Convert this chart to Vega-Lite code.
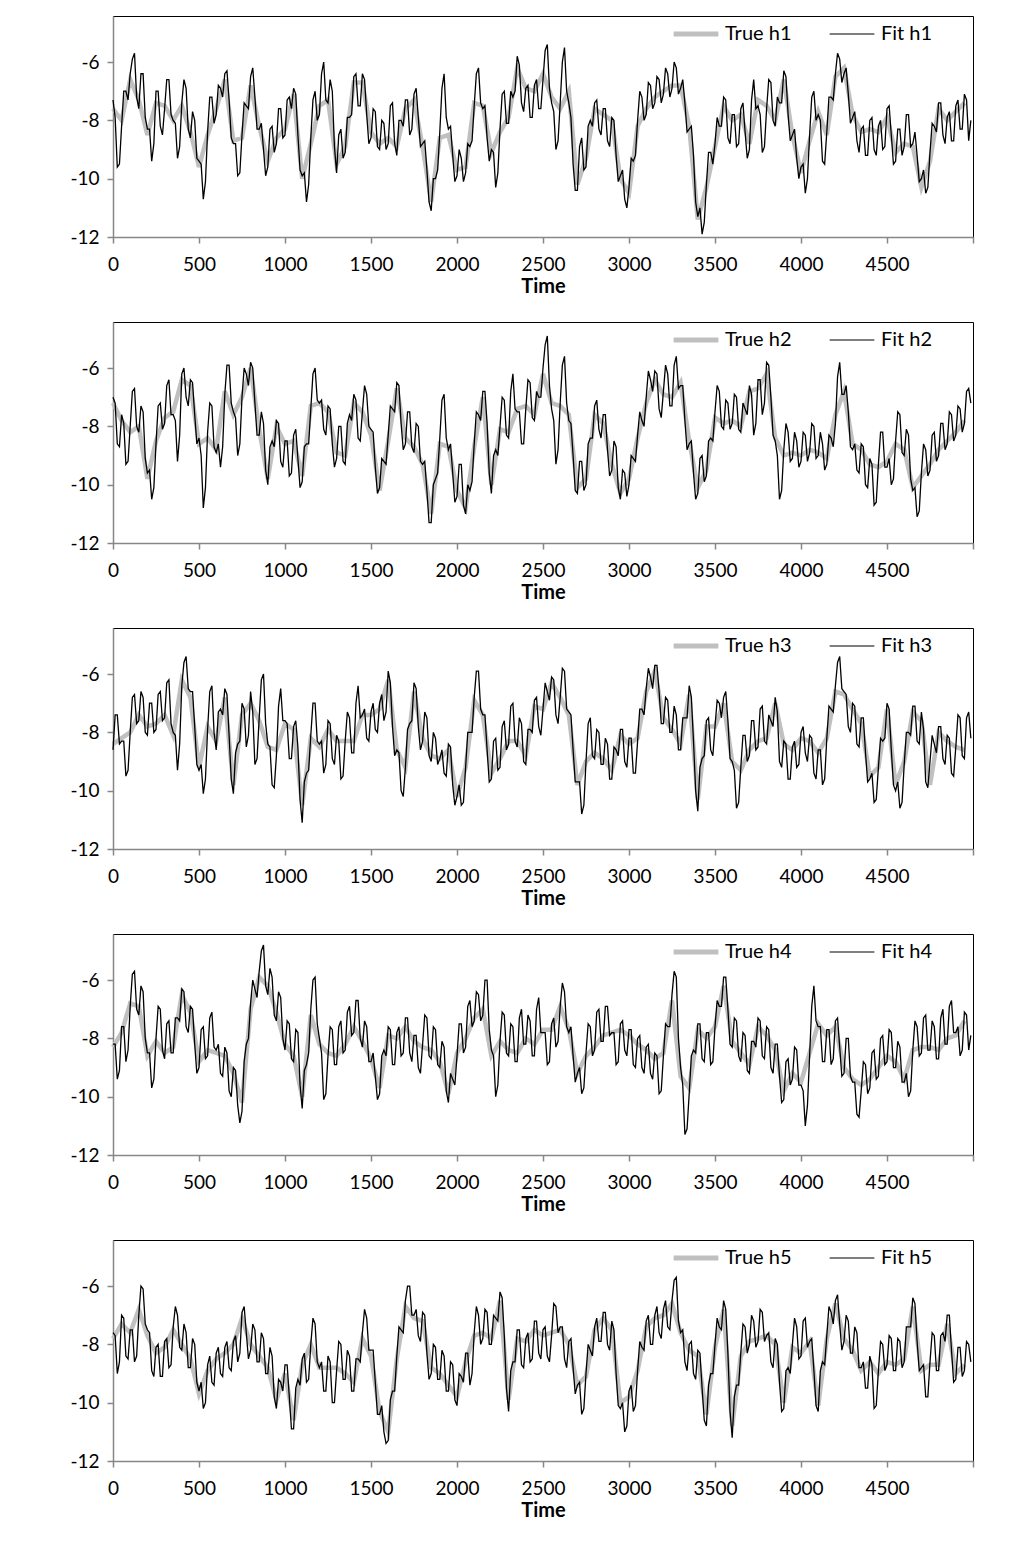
{
"$schema": "https://vega.github.io/schema/vega-lite/v6.json",
"padding": {"left": 69, "top": 15, "right": 10, "bottom": 10},
"bounds": "flush",
"spacing": 85,
"resolve": {"scale": {"color": "independent"}},
"datasets": {
"g1": [{"t":0,"v":-7.6},{"t":50,"v":-8.0},{"t":100,"v":-6.6},{"t":150,"v":-7.3},{"t":200,"v":-8.5},{"t":250,"v":-7.4},{"t":300,"v":-7.5},{"t":350,"v":-8.0},{"t":400,"v":-7.5},{"t":450,"v":-8.4},{"t":500,"v":-9.6},{"t":550,"v":-8.5},{"t":600,"v":-7.6},{"t":650,"v":-6.6},{"t":700,"v":-8.7},{"t":750,"v":-8.6},{"t":800,"v":-6.8},{"t":850,"v":-8.2},{"t":900,"v":-9.4},{"t":950,"v":-8.6},{"t":1000,"v":-8.3},{"t":1050,"v":-7.1},{"t":1100,"v":-10.0},{"t":1150,"v":-8.8},{"t":1200,"v":-7.5},{"t":1250,"v":-7.3},{"t":1300,"v":-9.5},{"t":1350,"v":-8.9},{"t":1400,"v":-6.7},{"t":1450,"v":-6.7},{"t":1500,"v":-8.4},{"t":1550,"v":-8.8},{"t":1600,"v":-8.6},{"t":1650,"v":-8.9},{"t":1700,"v":-7.6},{"t":1750,"v":-7.3},{"t":1800,"v":-8.9},{"t":1850,"v":-10.8},{"t":1900,"v":-8.6},{"t":1950,"v":-8.5},{"t":2000,"v":-9.7},{"t":2050,"v":-9.6},{"t":2100,"v":-7.4},{"t":2150,"v":-7.5},{"t":2200,"v":-9.1},{"t":2250,"v":-8.4},{"t":2300,"v":-7.9},{"t":2350,"v":-6.2},{"t":2400,"v":-6.9},{"t":2450,"v":-7.0},{"t":2500,"v":-6.4},{"t":2550,"v":-7.2},{"t":2600,"v":-7.6},{"t":2650,"v":-7.0},{"t":2700,"v":-10.2},{"t":2750,"v":-9.3},{"t":2800,"v":-7.6},{"t":2850,"v":-7.8},{"t":2900,"v":-8.0},{"t":2950,"v":-10.0},{"t":3000,"v":-10.5},{"t":3050,"v":-8.2},{"t":3100,"v":-7.6},{"t":3150,"v":-7.2},{"t":3200,"v":-7.0},{"t":3250,"v":-6.8},{"t":3300,"v":-6.8},{"t":3350,"v":-8.2},{"t":3400,"v":-11.4},{"t":3450,"v":-10.3},{"t":3500,"v":-8.9},{"t":3550,"v":-7.5},{"t":3600,"v":-8.0},{"t":3650,"v":-7.8},{"t":3700,"v":-8.8},{"t":3750,"v":-7.3},{"t":3800,"v":-7.5},{"t":3850,"v":-8.0},{"t":3900,"v":-6.6},{"t":3950,"v":-8.5},{"t":4000,"v":-9.8},{"t":4050,"v":-8.7},{"t":4100,"v":-7.7},{"t":4150,"v":-8.5},{"t":4200,"v":-6.5},{"t":4250,"v":-6.2},{"t":4300,"v":-7.8},{"t":4350,"v":-8.4},{"t":4400,"v":-8.3},{"t":4450,"v":-8.4},{"t":4500,"v":-7.9},{"t":4550,"v":-9.1},{"t":4600,"v":-8.8},{"t":4650,"v":-8.9},{"t":4700,"v":-10.3},{"t":4750,"v":-9.4},{"t":4800,"v":-7.6},{"t":4850,"v":-8.0},{"t":4900,"v":-7.7},{"t":4950,"v":-7.4}],
"f1": [{"t":0,"v":-7.3},{"t":25,"v":-9.6},{"t":50,"v":-8.2},{"t":75,"v":-7.0},{"t":100,"v":-6.4},{"t":125,"v":-5.7},{"t":150,"v":-7.6},{"t":175,"v":-6.4},{"t":200,"v":-8.3},{"t":225,"v":-9.4},{"t":250,"v":-7.0},{"t":275,"v":-8.2},{"t":300,"v":-7.6},{"t":325,"v":-6.6},{"t":350,"v":-8.0},{"t":375,"v":-9.3},{"t":400,"v":-7.4},{"t":425,"v":-6.9},{"t":450,"v":-8.6},{"t":475,"v":-8.0},{"t":500,"v":-9.4},{"t":525,"v":-10.7},{"t":550,"v":-8.4},{"t":575,"v":-7.2},{"t":600,"v":-7.8},{"t":625,"v":-6.9},{"t":650,"v":-6.4},{"t":675,"v":-7.3},{"t":700,"v":-8.8},{"t":725,"v":-9.9},{"t":750,"v":-8.5},{"t":775,"v":-7.5},{"t":800,"v":-6.5},{"t":825,"v":-7.2},{"t":850,"v":-8.3},{"t":875,"v":-9.0},{"t":900,"v":-9.6},{"t":925,"v":-8.2},{"t":950,"v":-8.8},{"t":975,"v":-7.6},{"t":1000,"v":-8.5},{"t":1025,"v":-7.2},{"t":1050,"v":-6.9},{"t":1075,"v":-8.5},{"t":1100,"v":-9.9},{"t":1125,"v":-10.8},{"t":1150,"v":-8.6},{"t":1175,"v":-7.0},{"t":1200,"v":-7.8},{"t":1225,"v":-6.0},{"t":1250,"v":-7.4},{"t":1275,"v":-7.0},{"t":1300,"v":-9.8},{"t":1325,"v":-8.3},{"t":1350,"v":-9.1},{"t":1375,"v":-7.9},{"t":1400,"v":-6.5},{"t":1425,"v":-7.5},{"t":1450,"v":-6.4},{"t":1475,"v":-7.8},{"t":1500,"v":-8.6},{"t":1525,"v":-7.7},{"t":1550,"v":-9.0},{"t":1575,"v":-8.1},{"t":1600,"v":-8.8},{"t":1625,"v":-7.4},{"t":1650,"v":-9.2},{"t":1675,"v":-8.0},{"t":1700,"v":-7.3},{"t":1725,"v":-8.5},{"t":1750,"v":-7.1},{"t":1775,"v":-7.9},{"t":1800,"v":-8.8},{"t":1825,"v":-9.7},{"t":1850,"v":-11.1},{"t":1875,"v":-10.0},{"t":1900,"v":-8.4},{"t":1925,"v":-6.4},{"t":1950,"v":-8.3},{"t":1975,"v":-9.2},{"t":2000,"v":-9.9},{"t":2025,"v":-9.3},{"t":2050,"v":-9.8},{"t":2075,"v":-8.9},{"t":2100,"v":-7.5},{"t":2125,"v":-6.2},{"t":2150,"v":-7.6},{"t":2175,"v":-8.6},{"t":2200,"v":-9.0},{"t":2225,"v":-10.3},{"t":2250,"v":-8.3},{"t":2275,"v":-7.0},{"t":2300,"v":-8.1},{"t":2325,"v":-7.2},{"t":2350,"v":-5.8},{"t":2375,"v":-7.4},{"t":2400,"v":-6.9},{"t":2425,"v":-7.9},{"t":2450,"v":-6.8},{"t":2475,"v":-7.6},{"t":2500,"v":-6.6},{"t":2525,"v":-5.4},{"t":2550,"v":-7.4},{"t":2575,"v":-9.0},{"t":2600,"v":-7.4},{"t":2625,"v":-5.5},{"t":2650,"v":-7.4},{"t":2675,"v":-9.5},{"t":2700,"v":-10.4},{"t":2725,"v":-8.6},{"t":2750,"v":-9.6},{"t":2775,"v":-8.0},{"t":2800,"v":-7.4},{"t":2825,"v":-8.3},{"t":2850,"v":-7.6},{"t":2875,"v":-8.7},{"t":2900,"v":-7.9},{"t":2925,"v":-9.2},{"t":2950,"v":-9.9},{"t":2975,"v":-10.7},{"t":3000,"v":-10.3},{"t":3025,"v":-9.4},{"t":3050,"v":-8.0},{"t":3075,"v":-7.2},{"t":3100,"v":-7.8},{"t":3125,"v":-6.8},{"t":3150,"v":-7.4},{"t":3175,"v":-6.6},{"t":3200,"v":-7.1},{"t":3225,"v":-6.4},{"t":3250,"v":-6.9},{"t":3275,"v":-6.2},{"t":3300,"v":-6.9},{"t":3325,"v":-7.4},{"t":3350,"v":-8.3},{"t":3375,"v":-9.2},{"t":3400,"v":-11.3},{"t":3425,"v":-11.9},{"t":3450,"v":-10.2},{"t":3475,"v":-9.1},{"t":3500,"v":-8.8},{"t":3525,"v":-8.2},{"t":3550,"v":-7.2},{"t":3575,"v":-8.6},{"t":3600,"v":-7.8},{"t":3625,"v":-8.9},{"t":3650,"v":-7.6},{"t":3675,"v":-8.4},{"t":3700,"v":-9.0},{"t":3725,"v":-6.6},{"t":3750,"v":-7.5},{"t":3775,"v":-9.1},{"t":3800,"v":-7.6},{"t":3825,"v":-6.7},{"t":3850,"v":-8.2},{"t":3875,"v":-7.4},{"t":3900,"v":-6.3},{"t":3925,"v":-7.8},{"t":3950,"v":-8.5},{"t":3975,"v":-9.3},{"t":4000,"v":-9.6},{"t":4025,"v":-10.5},{"t":4050,"v":-8.5},{"t":4075,"v":-7.0},{"t":4100,"v":-7.8},{"t":4125,"v":-9.4},{"t":4150,"v":-8.4},{"t":4175,"v":-7.2},{"t":4200,"v":-6.4},{"t":4225,"v":-5.9},{"t":4250,"v":-6.4},{"t":4275,"v":-7.1},{"t":4300,"v":-7.9},{"t":4325,"v":-8.7},{"t":4350,"v":-8.3},{"t":4375,"v":-9.2},{"t":4400,"v":-8.0},{"t":4425,"v":-9.0},{"t":4450,"v":-8.2},{"t":4475,"v":-9.0},{"t":4500,"v":-7.6},{"t":4525,"v":-8.5},{"t":4550,"v":-9.4},{"t":4575,"v":-8.3},{"t":4600,"v":-8.9},{"t":4625,"v":-7.8},{"t":4650,"v":-8.8},{"t":4675,"v":-9.2},{"t":4700,"v":-10.0},{"t":4725,"v":-10.5},{"t":4750,"v":-9.1},{"t":4775,"v":-8.2},{"t":4800,"v":-7.4},{"t":4825,"v":-8.5},{"t":4850,"v":-7.9},{"t":4875,"v":-8.7},{"t":4900,"v":-7.5},{"t":4925,"v":-8.3},{"t":4950,"v":-7.1},{"t":4975,"v":-8.7},
{"t":12.5,"v":-7.9},{"t":37.5,"v":-9.5},{"t":62.5,"v":-7.0},{"t":87.5,"v":-7.3},{"t":112.5,"v":-5.9},{"t":137.5,"v":-7.2},{"t":162.5,"v":-6.4},{"t":187.5,"v":-7.9},{"t":212.5,"v":-8.3},{"t":237.5,"v":-8.8},
{"t":262.5,"v":-7.0},{"t":287.5,"v":-8.5},{"t":312.5,"v":-6.6},{"t":337.5,"v":-7.8},{"t":362.5,"v":-8.1},{"t":387.5,"v":-8.9},{"t":412.5,"v":-6.6},{"t":437.5,"v":-8.3},{"t":462.5,"v":-7.7},{"t":487.5,"v":-9.3},
{"t":512.5,"v":-9.5},{"t":537.5,"v":-10.1},{"t":562.5,"v":-7.2},{"t":587.5,"v":-8.1},{"t":612.5,"v":-6.8},{"t":637.5,"v":-7.2},{"t":662.5,"v":-6.3},{"t":687.5,"v":-8.6},{"t":712.5,"v":-8.8},{"t":737.5,"v":-9.8},
{"t":762.5,"v":-7.4},{"t":787.5,"v":-7.6},{"t":812.5,"v":-6.2},{"t":837.5,"v":-8.3},{"t":862.5,"v":-8.1},{"t":887.5,"v":-9.9},{"t":912.5,"v":-8.3},{"t":937.5,"v":-9.1},{"t":962.5,"v":-7.6},{"t":987.5,"v":-8.6},
{"t":1012.5,"v":-7.3},{"t":1037.5,"v":-7.6},{"t":1062.5,"v":-7.1},{"t":1087.5,"v":-9.7},{"t":1112.5,"v":-9.8},{"t":1137.5,"v":-10.2},{"t":1162.5,"v":-7.3},{"t":1187.5,"v":-8.0},{"t":1212.5,"v":-6.4},{"t":1237.5,"v":-7.3},
{"t":1262.5,"v":-6.6},{"t":1287.5,"v":-8.9},{"t":1312.5,"v":-8.5},{"t":1337.5,"v":-9.3},{"t":1362.5,"v":-7.9},{"t":1387.5,"v":-7.8},{"t":1412.5,"v":-6.4},{"t":1437.5,"v":-7.5},{"t":1462.5,"v":-6.6},{"t":1487.5,"v":-8.8},
{"t":1512.5,"v":-7.6},{"t":1537.5,"v":-8.9},{"t":1562.5,"v":-8.0},{"t":1587.5,"v":-9.0},{"t":1612.5,"v":-7.5},{"t":1637.5,"v":-8.8},{"t":1662.5,"v":-8.0},{"t":1687.5,"v":-8.2},{"t":1712.5,"v":-7.3},{"t":1737.5,"v":-8.3},
{"t":1762.5,"v":-6.9},{"t":1787.5,"v":-8.9},{"t":1812.5,"v":-8.7},{"t":1837.5,"v":-10.8},{"t":1862.5,"v":-10.0},{"t":1887.5,"v":-9.7},{"t":1912.5,"v":-6.9},{"t":1937.5,"v":-7.9},{"t":1962.5,"v":-8.2},{"t":1987.5,"v":-10.1},
{"t":2012.5,"v":-9.0},{"t":2037.5,"v":-10.1},{"t":2062.5,"v":-8.8},{"t":2087.5,"v":-8.7},{"t":2112.5,"v":-6.4},{"t":2137.5,"v":-7.4},{"t":2162.5,"v":-7.5},{"t":2187.5,"v":-9.4},{"t":2212.5,"v":-9.1},{"t":2237.5,"v":-9.8},
{"t":2262.5,"v":-7.1},{"t":2287.5,"v":-8.1},{"t":2312.5,"v":-7.0},{"t":2337.5,"v":-7.0},{"t":2362.5,"v":-6.1},{"t":2387.5,"v":-7.7},{"t":2412.5,"v":-6.8},{"t":2437.5,"v":-7.9},{"t":2462.5,"v":-6.6},{"t":2487.5,"v":-7.6},
{"t":2512.5,"v":-5.6},{"t":2537.5,"v":-6.9},{"t":2562.5,"v":-7.7},{"t":2587.5,"v":-8.7},{"t":2612.5,"v":-6.0},{"t":2637.5,"v":-7.0},{"t":2662.5,"v":-7.9},{"t":2687.5,"v":-10.4},{"t":2712.5,"v":-8.9},{"t":2737.5,"v":-9.7},
{"t":2762.5,"v":-8.2},{"t":2787.5,"v":-8.2},{"t":2812.5,"v":-7.3},{"t":2837.5,"v":-8.5},{"t":2862.5,"v":-7.6},{"t":2887.5,"v":-8.9},{"t":2912.5,"v":-8.0},{"t":2937.5,"v":-10.1},{"t":2962.5,"v":-9.7},{"t":2987.5,"v":-11.0},
{"t":3012.5,"v":-9.3},{"t":3037.5,"v":-9.2},{"t":3062.5,"v":-7.0},{"t":3087.5,"v":-8.0},{"t":3112.5,"v":-6.7},{"t":3137.5,"v":-7.6},{"t":3162.5,"v":-6.5},{"t":3187.5,"v":-7.4},{"t":3212.5,"v":-6.2},{"t":3237.5,"v":-7.2},
{"t":3262.5,"v":-6.0},{"t":3287.5,"v":-7.1},{"t":3312.5,"v":-6.6},{"t":3337.5,"v":-8.4},{"t":3362.5,"v":-8.2},{"t":3387.5,"v":-10.8},{"t":3412.5,"v":-11.0},{"t":3437.5,"v":-11.5},{"t":3462.5,"v":-9.1},{"t":3487.5,"v":-9.5},
{"t":3512.5,"v":-7.9},{"t":3537.5,"v":-8.2},{"t":3562.5,"v":-7.3},{"t":3587.5,"v":-8.8},{"t":3612.5,"v":-7.8},{"t":3637.5,"v":-8.8},{"t":3662.5,"v":-7.4},{"t":3687.5,"v":-9.3},{"t":3712.5,"v":-7.3},{"t":3737.5,"v":-7.6},
{"t":3762.5,"v":-7.8},{"t":3787.5,"v":-8.9},{"t":3812.5,"v":-6.6},{"t":3837.5,"v":-8.0},{"t":3862.5,"v":-7.2},{"t":3887.5,"v":-7.4},{"t":3912.5,"v":-6.5},{"t":3937.5,"v":-8.7},{"t":3962.5,"v":-8.3},{"t":3987.5,"v":-10.0},
{"t":4012.5,"v":-9.5},{"t":4037.5,"v":-10.0},{"t":4062.5,"v":-7.2},{"t":4087.5,"v":-8.0},{"t":4112.5,"v":-8.0},{"t":4137.5,"v":-9.5},{"t":4162.5,"v":-7.2},{"t":4187.5,"v":-7.3},{"t":4212.5,"v":-5.7},{"t":4237.5,"v":-6.7},
{"t":4262.5,"v":-6.2},{"t":4287.5,"v":-8.1},{"t":4312.5,"v":-7.7},{"t":4337.5,"v":-9.1},{"t":4362.5,"v":-8.2},{"t":4387.5,"v":-9.2},{"t":4412.5,"v":-7.9},{"t":4437.5,"v":-9.2},{"t":4462.5,"v":-8.0},{"t":4487.5,"v":-8.9},
{"t":4512.5,"v":-7.5},{"t":4537.5,"v":-9.5},{"t":4562.5,"v":-8.3},{"t":4587.5,"v":-9.2},{"t":4612.5,"v":-7.8},{"t":4637.5,"v":-8.9},{"t":4662.5,"v":-8.4},{"t":4687.5,"v":-10.1},{"t":4712.5,"v":-9.7},{"t":4737.5,"v":-10.3},
{"t":4762.5,"v":-8.1},{"t":4787.5,"v":-8.4},{"t":4812.5,"v":-7.4},{"t":4837.5,"v":-8.8},{"t":4862.5,"v":-7.7},{"t":4887.5,"v":-8.7},{"t":4912.5,"v":-7.3},{"t":4937.5,"v":-8.3},{"t":4962.5,"v":-7.3},{"t":4987.5,"v":-8.0}],
"g2": [{"t":0,"v":-7.2},{"t":50,"v":-7.8},{"t":100,"v":-8.2},{"t":150,"v":-8.0},{"t":200,"v":-9.8},{"t":250,"v":-8.5},{"t":300,"v":-7.7},{"t":350,"v":-7.5},{"t":400,"v":-6.4},{"t":450,"v":-6.6},{"t":500,"v":-8.6},{"t":550,"v":-8.4},{"t":600,"v":-8.8},{"t":650,"v":-6.8},{"t":700,"v":-7.6},{"t":750,"v":-7.0},{"t":800,"v":-6.0},{"t":850,"v":-8.1},{"t":900,"v":-9.8},{"t":950,"v":-8.0},{"t":1000,"v":-8.6},{"t":1050,"v":-8.5},{"t":1100,"v":-9.7},{"t":1150,"v":-7.3},{"t":1200,"v":-7.2},{"t":1250,"v":-7.5},{"t":1300,"v":-8.9},{"t":1350,"v":-9.0},{"t":1400,"v":-7.2},{"t":1450,"v":-7.5},{"t":1500,"v":-8.3},{"t":1550,"v":-10.2},{"t":1600,"v":-8.5},{"t":1650,"v":-6.7},{"t":1700,"v":-8.4},{"t":1750,"v":-8.7},{"t":1800,"v":-9.3},{"t":1850,"v":-11.0},{"t":1900,"v":-8.6},{"t":1950,"v":-8.7},{"t":2000,"v":-10.2},{"t":2050,"v":-10.8},{"t":2100,"v":-8.7},{"t":2150,"v":-7.0},{"t":2200,"v":-10.0},{"t":2250,"v":-8.1},{"t":2300,"v":-8.2},{"t":2350,"v":-7.4},{"t":2400,"v":-7.3},{"t":2450,"v":-7.6},{"t":2500,"v":-6.2},{"t":2550,"v":-7.2},{"t":2600,"v":-7.3},{"t":2650,"v":-7.6},{"t":2700,"v":-10.1},{"t":2750,"v":-9.8},{"t":2800,"v":-7.6},{"t":2850,"v":-7.9},{"t":2900,"v":-9.3},{"t":2950,"v":-10.3},{"t":3000,"v":-9.8},{"t":3050,"v":-8.4},{"t":3100,"v":-7.2},{"t":3150,"v":-6.4},{"t":3200,"v":-6.9},{"t":3250,"v":-7.0},{"t":3300,"v":-6.5},{"t":3350,"v":-8.5},{"t":3400,"v":-10.1},{"t":3450,"v":-9.5},{"t":3500,"v":-7.7},{"t":3550,"v":-7.9},{"t":3600,"v":-7.8},{"t":3650,"v":-8.0},{"t":3700,"v":-6.8},{"t":3750,"v":-6.7},{"t":3800,"v":-6.2},{"t":3850,"v":-8.4},{"t":3900,"v":-9.0},{"t":3950,"v":-8.9},{"t":4000,"v":-9.0},{"t":4050,"v":-8.8},{"t":4100,"v":-8.9},{"t":4150,"v":-9.1},{"t":4200,"v":-7.6},{"t":4250,"v":-6.8},{"t":4300,"v":-8.6},{"t":4350,"v":-8.8},{"t":4400,"v":-9.3},{"t":4450,"v":-9.4},{"t":4500,"v":-9.2},{"t":4550,"v":-8.6},{"t":4600,"v":-8.8},{"t":4650,"v":-10.1},{"t":4700,"v":-9.7},{"t":4750,"v":-9.3},{"t":4800,"v":-8.8},{"t":4850,"v":-8.5},{"t":4900,"v":-8.2},{"t":4950,"v":-7.8}],
"f2": [{"t":0,"v":-7.0},{"t":25,"v":-8.6},{"t":50,"v":-7.6},{"t":75,"v":-9.3},{"t":100,"v":-8.0},{"t":125,"v":-6.7},{"t":150,"v":-8.2},{"t":175,"v":-7.5},{"t":200,"v":-9.6},{"t":225,"v":-10.5},{"t":250,"v":-8.6},{"t":275,"v":-7.2},{"t":300,"v":-7.9},{"t":325,"v":-6.4},{"t":350,"v":-7.6},{"t":375,"v":-9.2},{"t":400,"v":-6.2},{"t":425,"v":-7.0},{"t":450,"v":-6.4},{"t":475,"v":-7.6},{"t":500,"v":-8.4},{"t":525,"v":-10.8},{"t":550,"v":-8.2},{"t":575,"v":-7.3},{"t":600,"v":-8.9},{"t":625,"v":-9.4},{"t":650,"v":-6.9},{"t":675,"v":-5.9},{"t":700,"v":-7.5},{"t":725,"v":-9.0},{"t":750,"v":-7.0},{"t":775,"v":-6.2},{"t":800,"v":-5.8},{"t":825,"v":-7.2},{"t":850,"v":-8.3},{"t":875,"v":-7.9},{"t":900,"v":-10.0},{"t":925,"v":-8.5},{"t":950,"v":-7.8},{"t":975,"v":-9.2},{"t":1000,"v":-8.5},{"t":1025,"v":-9.7},{"t":1050,"v":-8.3},{"t":1075,"v":-9.1},{"t":1100,"v":-9.9},{"t":1125,"v":-8.6},{"t":1150,"v":-7.4},{"t":1175,"v":-6.0},{"t":1200,"v":-7.2},{"t":1225,"v":-8.1},{"t":1250,"v":-7.3},{"t":1275,"v":-8.6},{"t":1300,"v":-9.1},{"t":1325,"v":-8.0},{"t":1350,"v":-9.3},{"t":1375,"v":-7.6},{"t":1400,"v":-6.9},{"t":1425,"v":-8.4},{"t":1450,"v":-7.5},{"t":1475,"v":-6.9},{"t":1500,"v":-8.1},{"t":1525,"v":-9.4},{"t":1550,"v":-10.1},{"t":1575,"v":-9.2},{"t":1600,"v":-8.3},{"t":1625,"v":-7.4},{"t":1650,"v":-6.5},{"t":1675,"v":-7.9},{"t":1700,"v":-8.6},{"t":1725,"v":-7.5},{"t":1750,"v":-8.9},{"t":1775,"v":-8.0},{"t":1800,"v":-9.3},{"t":1825,"v":-10.2},{"t":1850,"v":-11.3},{"t":1875,"v":-9.8},{"t":1900,"v":-8.4},{"t":1925,"v":-6.9},{"t":1950,"v":-8.8},{"t":1975,"v":-9.6},{"t":2000,"v":-10.4},{"t":2025,"v":-9.3},{"t":2050,"v":-11.0},{"t":2075,"v":-10.2},{"t":2100,"v":-8.6},{"t":2125,"v":-7.6},{"t":2150,"v":-6.8},{"t":2175,"v":-7.9},{"t":2200,"v":-10.3},{"t":2225,"v":-8.8},{"t":2250,"v":-8.0},{"t":2275,"v":-7.1},{"t":2300,"v":-8.4},{"t":2325,"v":-6.2},{"t":2350,"v":-7.5},{"t":2375,"v":-8.6},{"t":2400,"v":-7.4},{"t":2425,"v":-6.5},{"t":2450,"v":-7.8},{"t":2475,"v":-7.0},{"t":2500,"v":-6.0},{"t":2525,"v":-4.9},{"t":2550,"v":-7.4},{"t":2575,"v":-9.3},{"t":2600,"v":-7.2},{"t":2625,"v":-5.6},{"t":2650,"v":-7.8},{"t":2675,"v":-9.0},{"t":2700,"v":-10.3},{"t":2725,"v":-9.2},{"t":2750,"v":-10.0},{"t":2775,"v":-8.4},{"t":2800,"v":-7.3},{"t":2825,"v":-8.1},{"t":2850,"v":-7.6},{"t":2875,"v":-8.8},{"t":2900,"v":-9.5},{"t":2925,"v":-8.7},{"t":2950,"v":-10.5},{"t":2975,"v":-9.6},{"t":3000,"v":-10.0},{"t":3025,"v":-9.1},{"t":3050,"v":-8.3},{"t":3075,"v":-7.8},{"t":3100,"v":-7.0},{"t":3125,"v":-6.4},{"t":3150,"v":-6.1},{"t":3175,"v":-7.4},{"t":3200,"v":-6.8},{"t":3225,"v":-6.2},{"t":3250,"v":-7.3},{"t":3275,"v":-5.6},{"t":3300,"v":-6.6},{"t":3325,"v":-7.8},{"t":3350,"v":-8.6},{"t":3375,"v":-9.6},{"t":3400,"v":-10.3},{"t":3425,"v":-9.0},{"t":3450,"v":-9.7},{"t":3475,"v":-8.4},{"t":3500,"v":-7.5},{"t":3525,"v":-6.8},{"t":3550,"v":-8.1},{"t":3575,"v":-7.2},{"t":3600,"v":-7.9},{"t":3625,"v":-7.0},{"t":3650,"v":-8.2},{"t":3675,"v":-7.4},{"t":3700,"v":-6.6},{"t":3725,"v":-8.3},{"t":3750,"v":-6.4},{"t":3775,"v":-7.6},{"t":3800,"v":-5.8},{"t":3825,"v":-7.0},{"t":3850,"v":-8.5},{"t":3875,"v":-10.5},{"t":3900,"v":-8.8},{"t":3925,"v":-8.2},{"t":3950,"v":-9.1},{"t":3975,"v":-8.5},{"t":4000,"v":-9.2},{"t":4025,"v":-8.3},{"t":4050,"v":-8.9},{"t":4075,"v":-8.0},{"t":4100,"v":-9.0},{"t":4125,"v":-8.6},{"t":4150,"v":-9.3},{"t":4175,"v":-8.4},{"t":4200,"v":-7.9},{"t":4225,"v":-5.8},{"t":4250,"v":-6.9},{"t":4275,"v":-7.5},{"t":4300,"v":-8.8},{"t":4325,"v":-9.5},{"t":4350,"v":-8.6},{"t":4375,"v":-10.0},{"t":4400,"v":-9.1},{"t":4425,"v":-10.7},{"t":4450,"v":-9.3},{"t":4475,"v":-8.2},{"t":4500,"v":-9.4},{"t":4525,"v":-10.0},{"t":4550,"v":-8.5},{"t":4575,"v":-7.6},{"t":4600,"v":-9.0},{"t":4625,"v":-8.3},{"t":4650,"v":-10.2},{"t":4675,"v":-11.1},{"t":4700,"v":-9.6},{"t":4725,"v":-8.8},{"t":4750,"v":-9.5},{"t":4775,"v":-8.2},{"t":4800,"v":-9.0},{"t":4825,"v":-7.9},{"t":4850,"v":-8.6},{"t":4875,"v":-7.6},{"t":4900,"v":-8.3},{"t":4925,"v":-7.4},{"t":4950,"v":-7.9},{"t":4975,"v":-6.7},
{"t":12.5,"v":-7.2},{"t":37.5,"v":-8.7},{"t":62.5,"v":-7.9},{"t":87.5,"v":-9.2},{"t":112.5,"v":-6.8},{"t":137.5,"v":-8.0},{"t":162.5,"v":-7.3},{"t":187.5,"v":-9.1},{"t":212.5,"v":-9.5},{"t":237.5,"v":-10.1},
{"t":262.5,"v":-7.3},{"t":287.5,"v":-8.1},{"t":312.5,"v":-6.6},{"t":337.5,"v":-7.6},{"t":362.5,"v":-7.8},{"t":387.5,"v":-8.3},{"t":412.5,"v":-6.0},{"t":437.5,"v":-7.3},{"t":462.5,"v":-6.5},{"t":487.5,"v":-8.6},
{"t":512.5,"v":-9.0},{"t":537.5,"v":-10.1},{"t":562.5,"v":-7.2},{"t":587.5,"v":-8.7},{"t":612.5,"v":-8.6},{"t":637.5,"v":-8.7},{"t":662.5,"v":-5.9},{"t":687.5,"v":-7.2},{"t":712.5,"v":-7.7},{"t":737.5,"v":-8.6},
{"t":762.5,"v":-6.0},{"t":787.5,"v":-6.6},{"t":812.5,"v":-6.0},{"t":837.5,"v":-8.3},{"t":862.5,"v":-7.5},{"t":887.5,"v":-9.5},{"t":912.5,"v":-8.7},{"t":937.5,"v":-8.7},{"t":962.5,"v":-7.9},{"t":987.5,"v":-9.4},
{"t":1012.5,"v":-8.5},{"t":1037.5,"v":-9.6},{"t":1062.5,"v":-8.1},{"t":1087.5,"v":-10.1},{"t":1112.5,"v":-8.7},{"t":1137.5,"v":-8.6},{"t":1162.5,"v":-6.2},{"t":1187.5,"v":-7.1},{"t":1212.5,"v":-7.1},{"t":1237.5,"v":-8.3},
{"t":1262.5,"v":-7.4},{"t":1287.5,"v":-9.4},{"t":1312.5,"v":-8.0},{"t":1337.5,"v":-9.2},{"t":1362.5,"v":-7.9},{"t":1387.5,"v":-7.8},{"t":1412.5,"v":-7.1},{"t":1437.5,"v":-8.5},{"t":1462.5,"v":-6.6},{"t":1487.5,"v":-8.0},
{"t":1512.5,"v":-8.2},{"t":1537.5,"v":-10.3},{"t":1562.5,"v":-9.1},{"t":1587.5,"v":-9.3},{"t":1612.5,"v":-7.3},{"t":1637.5,"v":-7.5},{"t":1662.5,"v":-6.6},{"t":1687.5,"v":-8.8},{"t":1712.5,"v":-7.5},{"t":1737.5,"v":-8.7},
{"t":1762.5,"v":-7.9},{"t":1787.5,"v":-9.2},{"t":1812.5,"v":-9.2},{"t":1837.5,"v":-11.3},{"t":1862.5,"v":-10.0},{"t":1887.5,"v":-9.6},{"t":1912.5,"v":-7.1},{"t":1937.5,"v":-8.4},{"t":1962.5,"v":-8.6},{"t":1987.5,"v":-10.6},
{"t":2012.5,"v":-9.3},{"t":2037.5,"v":-10.7},{"t":2062.5,"v":-10.0},{"t":2087.5,"v":-9.9},{"t":2112.5,"v":-7.5},{"t":2137.5,"v":-7.8},{"t":2162.5,"v":-6.8},{"t":2187.5,"v":-9.6},{"t":2212.5,"v":-9.0},{"t":2237.5,"v":-9.0},
{"t":2262.5,"v":-7.0},{"t":2287.5,"v":-8.3},{"t":2312.5,"v":-6.8},{"t":2337.5,"v":-7.4},{"t":2362.5,"v":-7.5},{"t":2387.5,"v":-8.6},{"t":2412.5,"v":-6.4},{"t":2437.5,"v":-7.7},{"t":2462.5,"v":-6.8},{"t":2487.5,"v":-7.0},
{"t":2512.5,"v":-5.2},{"t":2537.5,"v":-6.6},{"t":2562.5,"v":-7.8},{"t":2587.5,"v":-8.8},{"t":2612.5,"v":-5.9},{"t":2637.5,"v":-7.2},{"t":2662.5,"v":-7.9},{"t":2687.5,"v":-10.2},{"t":2712.5,"v":-9.2},{"t":2737.5,"v":-10.2},
{"t":2762.5,"v":-8.6},{"t":2787.5,"v":-8.4},{"t":2812.5,"v":-7.1},{"t":2837.5,"v":-8.4},{"t":2862.5,"v":-7.6},{"t":2887.5,"v":-9.7},{"t":2912.5,"v":-8.5},{"t":2937.5,"v":-10.1},{"t":2962.5,"v":-9.5},{"t":2987.5,"v":-10.4},
{"t":3012.5,"v":-9.0},{"t":3037.5,"v":-9.2},{"t":3062.5,"v":-7.5},{"t":3087.5,"v":-8.0},{"t":3112.5,"v":-6.1},{"t":3137.5,"v":-6.8},{"t":3162.5,"v":-6.2},{"t":3187.5,"v":-7.7},{"t":3212.5,"v":-5.9},{"t":3237.5,"v":-7.3},
{"t":3262.5,"v":-5.9},{"t":3287.5,"v":-6.7},{"t":3312.5,"v":-6.6},{"t":3337.5,"v":-8.8},{"t":3362.5,"v":-8.5},{"t":3387.5,"v":-10.5},{"t":3412.5,"v":-9.1},{"t":3437.5,"v":-9.9},{"t":3462.5,"v":-8.5},{"t":3487.5,"v":-8.5},
{"t":3512.5,"v":-6.6},{"t":3537.5,"v":-8.0},{"t":3562.5,"v":-7.1},{"t":3587.5,"v":-8.1},{"t":3612.5,"v":-6.9},{"t":3637.5,"v":-8.1},{"t":3662.5,"v":-7.2},{"t":3687.5,"v":-7.6},{"t":3712.5,"v":-6.9},{"t":3737.5,"v":-7.9},
{"t":3762.5,"v":-6.4},{"t":3787.5,"v":-7.2},{"t":3812.5,"v":-5.9},{"t":3837.5,"v":-8.3},{"t":3862.5,"v":-9.0},{"t":3887.5,"v":-10.2},{"t":3912.5,"v":-7.9},{"t":3937.5,"v":-9.2},{"t":3962.5,"v":-8.2},{"t":3987.5,"v":-9.4},
{"t":4012.5,"v":-8.2},{"t":4037.5,"v":-9.2},{"t":4062.5,"v":-7.9},{"t":4087.5,"v":-9.1},{"t":4112.5,"v":-8.2},{"t":4137.5,"v":-9.5},{"t":4162.5,"v":-8.3},{"t":4187.5,"v":-8.7},{"t":4212.5,"v":-6.3},{"t":4237.5,"v":-6.9},
{"t":4262.5,"v":-6.6},{"t":4287.5,"v":-8.7},{"t":4312.5,"v":-8.6},{"t":4337.5,"v":-9.6},{"t":4362.5,"v":-8.7},{"t":4387.5,"v":-10.1},{"t":4412.5,"v":-9.3},{"t":4437.5,"v":-10.6},{"t":4462.5,"v":-8.2},{"t":4487.5,"v":-9.4},
{"t":4512.5,"v":-9.1},{"t":4537.5,"v":-9.8},{"t":4562.5,"v":-7.5},{"t":4587.5,"v":-8.9},{"t":4612.5,"v":-8.1},{"t":4637.5,"v":-9.8},{"t":4662.5,"v":-10.1},{"t":4687.5,"v":-10.9},{"t":4712.5,"v":-8.6},{"t":4737.5,"v":-9.7},
{"t":4762.5,"v":-8.3},{"t":4787.5,"v":-9.2},{"t":4812.5,"v":-7.9},{"t":4837.5,"v":-8.8},{"t":4862.5,"v":-7.5},{"t":4887.5,"v":-8.5},{"t":4912.5,"v":-7.3},{"t":4937.5,"v":-8.2},{"t":4962.5,"v":-6.8},{"t":4987.5,"v":-7.2}],
"g3": [{"t":0,"v":-8.4},{"t":50,"v":-8.2},{"t":100,"v":-8.0},{"t":150,"v":-7.4},{"t":200,"v":-7.8},{"t":250,"v":-7.7},{"t":300,"v":-7.4},{"t":350,"v":-8.1},{"t":400,"v":-6.2},{"t":450,"v":-6.8},{"t":500,"v":-9.2},{"t":550,"v":-7.8},{"t":600,"v":-8.3},{"t":650,"v":-6.8},{"t":700,"v":-9.8},{"t":750,"v":-7.4},{"t":800,"v":-7.0},{"t":850,"v":-7.6},{"t":900,"v":-8.5},{"t":950,"v":-8.6},{"t":1000,"v":-7.7},{"t":1050,"v":-7.9},{"t":1100,"v":-10.5},{"t":1150,"v":-8.2},{"t":1200,"v":-8.5},{"t":1250,"v":-7.9},{"t":1300,"v":-8.3},{"t":1350,"v":-8.3},{"t":1400,"v":-8.3},{"t":1450,"v":-7.4},{"t":1500,"v":-7.4},{"t":1550,"v":-7.2},{"t":1600,"v":-6.2},{"t":1650,"v":-8.6},{"t":1700,"v":-9.2},{"t":1750,"v":-6.6},{"t":1800,"v":-8.2},{"t":1850,"v":-8.8},{"t":1900,"v":-8.9},{"t":1950,"v":-8.6},{"t":2000,"v":-10.2},{"t":2050,"v":-9.2},{"t":2100,"v":-6.9},{"t":2150,"v":-7.4},{"t":2200,"v":-9.4},{"t":2250,"v":-8.9},{"t":2300,"v":-8.3},{"t":2350,"v":-8.3},{"t":2400,"v":-8.8},{"t":2450,"v":-7.1},{"t":2500,"v":-7.2},{"t":2550,"v":-6.3},{"t":2600,"v":-6.8},{"t":2650,"v":-7.4},{"t":2700,"v":-9.8},{"t":2750,"v":-9.0},{"t":2800,"v":-8.7},{"t":2850,"v":-8.9},{"t":2900,"v":-9.3},{"t":2950,"v":-8.1},{"t":3000,"v":-8.4},{"t":3050,"v":-8.2},{"t":3100,"v":-6.6},{"t":3150,"v":-5.9},{"t":3200,"v":-7.5},{"t":3250,"v":-7.9},{"t":3300,"v":-8.4},{"t":3350,"v":-6.7},{"t":3400,"v":-10.3},{"t":3450,"v":-7.8},{"t":3500,"v":-7.8},{"t":3550,"v":-7.0},{"t":3600,"v":-9.0},{"t":3650,"v":-9.3},{"t":3700,"v":-8.6},{"t":3750,"v":-8.3},{"t":3800,"v":-8.2},{"t":3850,"v":-7.0},{"t":3900,"v":-8.4},{"t":3950,"v":-8.6},{"t":4000,"v":-8.2},{"t":4050,"v":-8.3},{"t":4100,"v":-8.7},{"t":4150,"v":-8.2},{"t":4200,"v":-6.6},{"t":4250,"v":-6.7},{"t":4300,"v":-7.2},{"t":4350,"v":-7.7},{"t":4400,"v":-9.5},{"t":4450,"v":-9.2},{"t":4500,"v":-7.2},{"t":4550,"v":-9.8},{"t":4600,"v":-9.0},{"t":4650,"v":-7.3},{"t":4700,"v":-7.6},{"t":4750,"v":-9.8},{"t":4800,"v":-8.0},{"t":4850,"v":-8.3},{"t":4900,"v":-8.5},{"t":4950,"v":-8.6}],
"f3": [{"t":0,"v":-8.6},{"t":25,"v":-7.4},{"t":50,"v":-8.3},{"t":75,"v":-9.5},{"t":100,"v":-8.0},{"t":125,"v":-6.7},{"t":150,"v":-7.6},{"t":175,"v":-6.8},{"t":200,"v":-8.1},{"t":225,"v":-7.0},{"t":250,"v":-7.9},{"t":275,"v":-6.6},{"t":300,"v":-7.5},{"t":325,"v":-6.2},{"t":350,"v":-8.0},{"t":375,"v":-9.3},{"t":400,"v":-6.4},{"t":425,"v":-5.4},{"t":450,"v":-6.6},{"t":475,"v":-7.8},{"t":500,"v":-9.3},{"t":525,"v":-10.1},{"t":550,"v":-7.9},{"t":575,"v":-6.4},{"t":600,"v":-8.6},{"t":625,"v":-7.2},{"t":650,"v":-6.5},{"t":675,"v":-8.1},{"t":700,"v":-10.1},{"t":725,"v":-8.4},{"t":750,"v":-7.0},{"t":775,"v":-8.5},{"t":800,"v":-6.6},{"t":825,"v":-9.1},{"t":850,"v":-7.5},{"t":875,"v":-6.0},{"t":900,"v":-8.4},{"t":925,"v":-9.8},{"t":950,"v":-8.8},{"t":975,"v":-6.5},{"t":1000,"v":-7.6},{"t":1025,"v":-8.9},{"t":1050,"v":-7.8},{"t":1075,"v":-8.5},{"t":1100,"v":-11.1},{"t":1125,"v":-9.4},{"t":1150,"v":-8.1},{"t":1175,"v":-7.0},{"t":1200,"v":-8.4},{"t":1225,"v":-9.4},{"t":1250,"v":-7.6},{"t":1275,"v":-8.9},{"t":1300,"v":-8.1},{"t":1325,"v":-9.6},{"t":1350,"v":-8.3},{"t":1375,"v":-7.5},{"t":1400,"v":-8.7},{"t":1425,"v":-6.4},{"t":1450,"v":-7.4},{"t":1475,"v":-8.2},{"t":1500,"v":-7.3},{"t":1525,"v":-7.9},{"t":1550,"v":-7.0},{"t":1575,"v":-7.6},{"t":1600,"v":-5.9},{"t":1625,"v":-7.8},{"t":1650,"v":-8.6},{"t":1675,"v":-10.0},{"t":1700,"v":-9.2},{"t":1725,"v":-7.7},{"t":1750,"v":-6.3},{"t":1775,"v":-7.8},{"t":1800,"v":-8.3},{"t":1825,"v":-7.5},{"t":1850,"v":-9.0},{"t":1875,"v":-8.2},{"t":1900,"v":-8.9},{"t":1925,"v":-9.4},{"t":1950,"v":-8.4},{"t":1975,"v":-9.8},{"t":2000,"v":-10.2},{"t":2025,"v":-10.5},{"t":2050,"v":-9.2},{"t":2075,"v":-8.0},{"t":2100,"v":-6.8},{"t":2125,"v":-5.9},{"t":2150,"v":-7.4},{"t":2175,"v":-8.6},{"t":2200,"v":-9.6},{"t":2225,"v":-8.2},{"t":2250,"v":-9.2},{"t":2275,"v":-7.6},{"t":2300,"v":-8.4},{"t":2325,"v":-7.0},{"t":2350,"v":-8.5},{"t":2375,"v":-7.7},{"t":2400,"v":-9.1},{"t":2425,"v":-7.9},{"t":2450,"v":-6.9},{"t":2475,"v":-7.8},{"t":2500,"v":-7.2},{"t":2525,"v":-6.6},{"t":2550,"v":-6.1},{"t":2575,"v":-7.4},{"t":2600,"v":-6.8},{"t":2625,"v":-5.9},{"t":2650,"v":-7.3},{"t":2675,"v":-8.6},{"t":2700,"v":-9.7},{"t":2725,"v":-10.8},{"t":2750,"v":-9.0},{"t":2775,"v":-7.5},{"t":2800,"v":-8.9},{"t":2825,"v":-8.0},{"t":2850,"v":-9.1},{"t":2875,"v":-8.4},{"t":2900,"v":-9.6},{"t":2925,"v":-8.6},{"t":2950,"v":-7.9},{"t":2975,"v":-9.0},{"t":3000,"v":-8.2},{"t":3025,"v":-9.4},{"t":3050,"v":-8.3},{"t":3075,"v":-7.2},{"t":3100,"v":-6.5},{"t":3125,"v":-6.1},{"t":3150,"v":-5.7},{"t":3175,"v":-6.6},{"t":3200,"v":-7.7},{"t":3225,"v":-6.9},{"t":3250,"v":-8.0},{"t":3275,"v":-7.4},{"t":3300,"v":-8.6},{"t":3325,"v":-7.5},{"t":3350,"v":-6.4},{"t":3375,"v":-8.3},{"t":3400,"v":-10.7},{"t":3425,"v":-8.9},{"t":3450,"v":-7.6},{"t":3475,"v":-8.6},{"t":3500,"v":-7.8},{"t":3525,"v":-7.0},{"t":3550,"v":-6.8},{"t":3575,"v":-7.6},{"t":3600,"v":-9.0},{"t":3625,"v":-10.6},{"t":3650,"v":-9.2},{"t":3675,"v":-8.1},{"t":3700,"v":-8.8},{"t":3725,"v":-7.6},{"t":3750,"v":-8.5},{"t":3775,"v":-7.1},{"t":3800,"v":-8.4},{"t":3825,"v":-7.6},{"t":3850,"v":-6.8},{"t":3875,"v":-9.0},{"t":3900,"v":-8.3},{"t":3925,"v":-9.6},{"t":3950,"v":-8.5},{"t":3975,"v":-9.2},{"t":4000,"v":-8.0},{"t":4025,"v":-8.7},{"t":4050,"v":-8.1},{"t":4075,"v":-9.4},{"t":4100,"v":-8.6},{"t":4125,"v":-9.8},{"t":4150,"v":-8.2},{"t":4175,"v":-7.2},{"t":4200,"v":-6.4},{"t":4225,"v":-5.4},{"t":4250,"v":-6.6},{"t":4275,"v":-7.8},{"t":4300,"v":-7.0},{"t":4325,"v":-8.4},{"t":4350,"v":-7.5},{"t":4375,"v":-8.7},{"t":4400,"v":-9.6},{"t":4425,"v":-10.4},{"t":4450,"v":-9.2},{"t":4475,"v":-8.3},{"t":4500,"v":-7.0},{"t":4525,"v":-8.6},{"t":4550,"v":-10.0},{"t":4575,"v":-10.6},{"t":4600,"v":-9.1},{"t":4625,"v":-8.0},{"t":4650,"v":-7.1},{"t":4675,"v":-8.3},{"t":4700,"v":-7.3},{"t":4725,"v":-9.7},{"t":4750,"v":-9.0},{"t":4775,"v":-8.4},{"t":4800,"v":-7.8},{"t":4825,"v":-8.9},{"t":4850,"v":-8.1},{"t":4875,"v":-9.4},{"t":4900,"v":-8.5},{"t":4925,"v":-7.5},{"t":4950,"v":-8.9},{"t":4975,"v":-7.3},
{"t":12.5,"v":-7.4},{"t":37.5,"v":-8.4},{"t":62.5,"v":-8.3},{"t":87.5,"v":-9.3},{"t":112.5,"v":-6.8},{"t":137.5,"v":-7.7},{"t":162.5,"v":-6.6},{"t":187.5,"v":-8.0},{"t":212.5,"v":-7.0},{"t":237.5,"v":-8.0},
{"t":262.5,"v":-6.7},{"t":287.5,"v":-7.6},{"t":312.5,"v":-6.3},{"t":337.5,"v":-7.7},{"t":362.5,"v":-8.1},{"t":387.5,"v":-8.4},{"t":412.5,"v":-5.6},{"t":437.5,"v":-6.5},{"t":462.5,"v":-6.6},{"t":487.5,"v":-9.1},
{"t":512.5,"v":-9.1},{"t":537.5,"v":-9.6},{"t":562.5,"v":-6.6},{"t":587.5,"v":-8.0},{"t":612.5,"v":-7.3},{"t":637.5,"v":-7.4},{"t":662.5,"v":-6.7},{"t":687.5,"v":-9.6},{"t":712.5,"v":-8.7},{"t":737.5,"v":-8.3},
{"t":762.5,"v":-7.2},{"t":787.5,"v":-8.1},{"t":812.5,"v":-7.3},{"t":837.5,"v":-8.9},{"t":862.5,"v":-6.2},{"t":887.5,"v":-7.7},{"t":912.5,"v":-8.5},{"t":937.5,"v":-9.9},{"t":962.5,"v":-7.1},{"t":987.5,"v":-7.6},
{"t":1012.5,"v":-7.7},{"t":1037.5,"v":-8.9},{"t":1062.5,"v":-7.6},{"t":1087.5,"v":-10.3},{"t":1112.5,"v":-9.7},{"t":1137.5,"v":-9.3},{"t":1162.5,"v":-7.0},{"t":1187.5,"v":-8.3},{"t":1212.5,"v":-8.3},{"t":1237.5,"v":-9.1},
{"t":1262.5,"v":-7.7},{"t":1287.5,"v":-9.1},{"t":1312.5,"v":-8.3},{"t":1337.5,"v":-9.5},{"t":1362.5,"v":-7.3},{"t":1387.5,"v":-8.7},{"t":1412.5,"v":-7.0},{"t":1437.5,"v":-7.5},{"t":1462.5,"v":-7.2},{"t":1487.5,"v":-8.3},
{"t":1512.5,"v":-7.0},{"t":1537.5,"v":-8.0},{"t":1562.5,"v":-6.7},{"t":1587.5,"v":-7.3},{"t":1612.5,"v":-6.3},{"t":1637.5,"v":-8.8},{"t":1662.5,"v":-8.7},{"t":1687.5,"v":-10.2},{"t":1712.5,"v":-7.9},{"t":1737.5,"v":-7.6},
{"t":1762.5,"v":-6.5},{"t":1787.5,"v":-8.6},{"t":1812.5,"v":-7.3},{"t":1837.5,"v":-8.8},{"t":1862.5,"v":-8.0},{"t":1887.5,"v":-9.1},{"t":1912.5,"v":-8.6},{"t":1937.5,"v":-9.5},{"t":1962.5,"v":-8.5},{"t":1987.5,"v":-10.5},
{"t":2012.5,"v":-9.8},{"t":2037.5,"v":-10.4},{"t":2062.5,"v":-8.0},{"t":2087.5,"v":-8.0},{"t":2112.5,"v":-5.9},{"t":2137.5,"v":-7.2},{"t":2162.5,"v":-7.4},{"t":2187.5,"v":-9.7},{"t":2212.5,"v":-8.3},{"t":2237.5,"v":-9.3},
{"t":2262.5,"v":-7.8},{"t":2287.5,"v":-8.6},{"t":2312.5,"v":-7.1},{"t":2337.5,"v":-8.3},{"t":2362.5,"v":-7.5},{"t":2387.5,"v":-9.0},{"t":2412.5,"v":-7.9},{"t":2437.5,"v":-8.0},{"t":2462.5,"v":-6.8},{"t":2487.5,"v":-8.1},
{"t":2512.5,"v":-6.3},{"t":2537.5,"v":-6.9},{"t":2562.5,"v":-6.2},{"t":2587.5,"v":-7.7},{"t":2612.5,"v":-5.8},{"t":2637.5,"v":-7.2},{"t":2662.5,"v":-7.4},{"t":2687.5,"v":-9.7},{"t":2712.5,"v":-9.7},{"t":2737.5,"v":-10.5},
{"t":2762.5,"v":-7.7},{"t":2787.5,"v":-8.8},{"t":2812.5,"v":-7.9},{"t":2837.5,"v":-9.1},{"t":2862.5,"v":-8.2},{"t":2887.5,"v":-9.6},{"t":2912.5,"v":-8.5},{"t":2937.5,"v":-8.8},{"t":2962.5,"v":-7.9},{"t":2987.5,"v":-9.2},
{"t":3012.5,"v":-8.2},{"t":3037.5,"v":-9.4},{"t":3062.5,"v":-7.2},{"t":3087.5,"v":-7.4},{"t":3112.5,"v":-5.8},{"t":3137.5,"v":-6.5},{"t":3162.5,"v":-5.7},{"t":3187.5,"v":-7.7},{"t":3212.5,"v":-6.8},{"t":3237.5,"v":-8.0},
{"t":3262.5,"v":-7.1},{"t":3287.5,"v":-8.6},{"t":3312.5,"v":-7.5},{"t":3337.5,"v":-7.5},{"t":3362.5,"v":-6.8},{"t":3387.5,"v":-10.0},{"t":3412.5,"v":-9.2},{"t":3437.5,"v":-8.8},{"t":3462.5,"v":-7.5},{"t":3487.5,"v":-8.8},
{"t":3512.5,"v":-6.9},{"t":3537.5,"v":-7.5},{"t":3562.5,"v":-6.6},{"t":3587.5,"v":-8.9},{"t":3612.5,"v":-9.3},{"t":3637.5,"v":-10.4},{"t":3662.5,"v":-8.1},{"t":3687.5,"v":-9.0},{"t":3712.5,"v":-7.6},{"t":3737.5,"v":-8.6},
{"t":3762.5,"v":-7.2},{"t":3787.5,"v":-8.3},{"t":3812.5,"v":-7.4},{"t":3837.5,"v":-7.8},{"t":3862.5,"v":-7.3},{"t":3887.5,"v":-9.2},{"t":3912.5,"v":-8.4},{"t":3937.5,"v":-9.6},{"t":3962.5,"v":-8.3},{"t":3987.5,"v":-9.1},
{"t":4012.5,"v":-7.8},{"t":4037.5,"v":-9.0},{"t":4062.5,"v":-8.2},{"t":4087.5,"v":-9.6},{"t":4112.5,"v":-8.6},{"t":4137.5,"v":-9.6},{"t":4162.5,"v":-7.1},{"t":4187.5,"v":-7.3},{"t":4212.5,"v":-5.6},{"t":4237.5,"v":-6.5},
{"t":4262.5,"v":-6.7},{"t":4287.5,"v":-8.0},{"t":4312.5,"v":-7.1},{"t":4337.5,"v":-8.5},{"t":4362.5,"v":-7.5},{"t":4387.5,"v":-9.7},{"t":4412.5,"v":-9.4},{"t":4437.5,"v":-10.3},{"t":4462.5,"v":-8.2},{"t":4487.5,"v":-8.2},
{"t":4512.5,"v":-7.2},{"t":4537.5,"v":-9.8},{"t":4562.5,"v":-9.7},{"t":4587.5,"v":-10.4},{"t":4612.5,"v":-8.0},{"t":4637.5,"v":-8.1},{"t":4662.5,"v":-7.1},{"t":4687.5,"v":-8.4},{"t":4712.5,"v":-7.9},{"t":4737.5,"v":-9.9},
{"t":4762.5,"v":-8.1},{"t":4787.5,"v":-8.7},{"t":4812.5,"v":-7.8},{"t":4837.5,"v":-9.1},{"t":4862.5,"v":-8.2},{"t":4887.5,"v":-9.5},{"t":4912.5,"v":-7.4},{"t":4937.5,"v":-8.8},{"t":4962.5,"v":-7.5},{"t":4987.5,"v":-8.2}],
"g4": [{"t":0,"v":-8.3},{"t":50,"v":-7.8},{"t":100,"v":-6.8},{"t":150,"v":-6.9},{"t":200,"v":-8.6},{"t":250,"v":-8.1},{"t":300,"v":-8.5},{"t":350,"v":-8.3},{"t":400,"v":-6.5},{"t":450,"v":-7.1},{"t":500,"v":-8.8},{"t":550,"v":-8.4},{"t":600,"v":-8.5},{"t":650,"v":-8.6},{"t":700,"v":-9.2},{"t":750,"v":-10.2},{"t":800,"v":-7.0},{"t":850,"v":-5.9},{"t":900,"v":-6.2},{"t":950,"v":-7.1},{"t":1000,"v":-8.2},{"t":1050,"v":-8.6},{"t":1100,"v":-10.0},{"t":1150,"v":-7.2},{"t":1200,"v":-8.2},{"t":1250,"v":-8.5},{"t":1300,"v":-8.6},{"t":1350,"v":-8.2},{"t":1400,"v":-7.6},{"t":1450,"v":-8.1},{"t":1500,"v":-8.7},{"t":1550,"v":-9.7},{"t":1600,"v":-7.9},{"t":1650,"v":-8.0},{"t":1700,"v":-7.6},{"t":1750,"v":-8.1},{"t":1800,"v":-8.3},{"t":1850,"v":-8.4},{"t":1900,"v":-8.8},{"t":1950,"v":-9.9},{"t":2000,"v":-8.5},{"t":2050,"v":-8.0},{"t":2100,"v":-7.3},{"t":2150,"v":-7.0},{"t":2200,"v":-8.6},{"t":2250,"v":-8.1},{"t":2300,"v":-8.4},{"t":2350,"v":-8.5},{"t":2400,"v":-8.0},{"t":2450,"v":-8.2},{"t":2500,"v":-7.7},{"t":2550,"v":-7.7},{"t":2600,"v":-6.9},{"t":2650,"v":-7.7},{"t":2700,"v":-9.2},{"t":2750,"v":-8.6},{"t":2800,"v":-8.3},{"t":2850,"v":-7.9},{"t":2900,"v":-7.8},{"t":2950,"v":-7.7},{"t":3000,"v":-7.9},{"t":3050,"v":-8.2},{"t":3100,"v":-8.4},{"t":3150,"v":-8.7},{"t":3200,"v":-8.5},{"t":3250,"v":-6.7},{"t":3300,"v":-9.3},{"t":3350,"v":-9.7},{"t":3400,"v":-7.7},{"t":3450,"v":-8.0},{"t":3500,"v":-7.6},{"t":3550,"v":-6.2},{"t":3600,"v":-8.1},{"t":3650,"v":-8.5},{"t":3700,"v":-8.9},{"t":3750,"v":-7.6},{"t":3800,"v":-7.9},{"t":3850,"v":-8.4},{"t":3900,"v":-9.8},{"t":3950,"v":-9.2},{"t":4000,"v":-9.5},{"t":4050,"v":-8.5},{"t":4100,"v":-7.5},{"t":4150,"v":-7.9},{"t":4200,"v":-7.6},{"t":4250,"v":-9.0},{"t":4300,"v":-9.4},{"t":4350,"v":-9.6},{"t":4400,"v":-9.4},{"t":4450,"v":-9.0},{"t":4500,"v":-8.6},{"t":4550,"v":-8.8},{"t":4600,"v":-9.4},{"t":4650,"v":-8.4},{"t":4700,"v":-8.3},{"t":4750,"v":-8.3},{"t":4800,"v":-8.4},{"t":4850,"v":-8.0},{"t":4900,"v":-7.9},{"t":4950,"v":-7.4}],
"f4": [{"t":0,"v":-8.2},{"t":25,"v":-9.4},{"t":50,"v":-7.6},{"t":75,"v":-8.8},{"t":100,"v":-6.9},{"t":125,"v":-5.7},{"t":150,"v":-7.2},{"t":175,"v":-6.4},{"t":200,"v":-8.5},{"t":225,"v":-9.7},{"t":250,"v":-8.0},{"t":275,"v":-7.0},{"t":300,"v":-8.7},{"t":325,"v":-7.4},{"t":350,"v":-8.5},{"t":375,"v":-7.3},{"t":400,"v":-6.3},{"t":425,"v":-7.6},{"t":450,"v":-6.9},{"t":475,"v":-8.2},{"t":500,"v":-9.0},{"t":525,"v":-7.6},{"t":550,"v":-8.6},{"t":575,"v":-7.1},{"t":600,"v":-8.4},{"t":625,"v":-9.2},{"t":650,"v":-8.3},{"t":675,"v":-9.8},{"t":700,"v":-9.0},{"t":725,"v":-10.3},{"t":750,"v":-10.5},{"t":775,"v":-8.2},{"t":800,"v":-6.8},{"t":825,"v":-6.3},{"t":850,"v":-5.7},{"t":875,"v":-4.8},{"t":900,"v":-6.5},{"t":925,"v":-5.9},{"t":950,"v":-7.4},{"t":975,"v":-6.6},{"t":1000,"v":-8.4},{"t":1025,"v":-7.5},{"t":1050,"v":-8.8},{"t":1075,"v":-7.8},{"t":1100,"v":-10.4},{"t":1125,"v":-8.9},{"t":1150,"v":-7.0},{"t":1175,"v":-5.9},{"t":1200,"v":-8.0},{"t":1225,"v":-10.1},{"t":1250,"v":-8.6},{"t":1275,"v":-7.7},{"t":1300,"v":-8.9},{"t":1325,"v":-7.4},{"t":1350,"v":-8.4},{"t":1375,"v":-6.9},{"t":1400,"v":-7.8},{"t":1425,"v":-6.7},{"t":1450,"v":-8.3},{"t":1475,"v":-7.6},{"t":1500,"v":-8.8},{"t":1525,"v":-9.3},{"t":1550,"v":-9.9},{"t":1575,"v":-8.4},{"t":1600,"v":-7.6},{"t":1625,"v":-8.9},{"t":1650,"v":-7.8},{"t":1675,"v":-8.6},{"t":1700,"v":-7.3},{"t":1725,"v":-8.5},{"t":1750,"v":-7.9},{"t":1775,"v":-9.0},{"t":1800,"v":-8.2},{"t":1825,"v":-7.3},{"t":1850,"v":-8.7},{"t":1875,"v":-7.7},{"t":1900,"v":-9.0},{"t":1925,"v":-8.3},{"t":1950,"v":-10.2},{"t":1975,"v":-9.4},{"t":2000,"v":-8.6},{"t":2025,"v":-7.5},{"t":2050,"v":-8.3},{"t":2075,"v":-6.7},{"t":2100,"v":-7.4},{"t":2125,"v":-6.5},{"t":2150,"v":-7.2},{"t":2175,"v":-6.0},{"t":2200,"v":-8.4},{"t":2225,"v":-10.0},{"t":2250,"v":-8.1},{"t":2275,"v":-7.2},{"t":2300,"v":-8.6},{"t":2325,"v":-7.6},{"t":2350,"v":-8.8},{"t":2375,"v":-7.0},{"t":2400,"v":-8.2},{"t":2425,"v":-7.4},{"t":2450,"v":-8.6},{"t":2475,"v":-6.6},{"t":2500,"v":-7.8},{"t":2525,"v":-8.9},{"t":2550,"v":-7.5},{"t":2575,"v":-8.3},{"t":2600,"v":-6.9},{"t":2625,"v":-6.4},{"t":2650,"v":-7.8},{"t":2675,"v":-8.6},{"t":2700,"v":-9.2},{"t":2725,"v":-9.9},{"t":2750,"v":-8.5},{"t":2775,"v":-7.6},{"t":2800,"v":-8.4},{"t":2825,"v":-7.0},{"t":2850,"v":-8.1},{"t":2875,"v":-6.9},{"t":2900,"v":-7.8},{"t":2925,"v":-8.9},{"t":2950,"v":-7.5},{"t":2975,"v":-8.4},{"t":3000,"v":-7.7},{"t":3025,"v":-8.9},{"t":3050,"v":-8.0},{"t":3075,"v":-9.0},{"t":3100,"v":-8.3},{"t":3125,"v":-9.2},{"t":3150,"v":-8.5},{"t":3175,"v":-9.9},{"t":3200,"v":-8.6},{"t":3225,"v":-7.6},{"t":3250,"v":-6.5},{"t":3275,"v":-5.9},{"t":3300,"v":-9.0},{"t":3325,"v":-11.3},{"t":3350,"v":-9.9},{"t":3375,"v":-8.4},{"t":3400,"v":-7.5},{"t":3425,"v":-8.7},{"t":3450,"v":-7.8},{"t":3475,"v":-8.9},{"t":3500,"v":-7.6},{"t":3525,"v":-6.9},{"t":3550,"v":-5.9},{"t":3575,"v":-7.0},{"t":3600,"v":-8.3},{"t":3625,"v":-7.4},{"t":3650,"v":-8.8},{"t":3675,"v":-7.9},{"t":3700,"v":-9.2},{"t":3725,"v":-8.1},{"t":3750,"v":-7.3},{"t":3775,"v":-8.6},{"t":3800,"v":-7.6},{"t":3825,"v":-9.0},{"t":3850,"v":-8.2},{"t":3875,"v":-9.3},{"t":3900,"v":-10.1},{"t":3925,"v":-8.7},{"t":3950,"v":-9.4},{"t":3975,"v":-8.4},{"t":4000,"v":-9.6},{"t":4025,"v":-11.0},{"t":4050,"v":-8.6},{"t":4075,"v":-6.2},{"t":4100,"v":-7.6},{"t":4125,"v":-8.8},{"t":4150,"v":-7.7},{"t":4175,"v":-8.9},{"t":4200,"v":-7.4},{"t":4225,"v":-8.3},{"t":4250,"v":-9.2},{"t":4275,"v":-8.0},{"t":4300,"v":-9.5},{"t":4325,"v":-10.6},{"t":4350,"v":-9.8},{"t":4375,"v":-8.9},{"t":4400,"v":-9.7},{"t":4425,"v":-8.4},{"t":4450,"v":-9.3},{"t":4475,"v":-7.9},{"t":4500,"v":-8.8},{"t":4525,"v":-7.8},{"t":4550,"v":-9.0},{"t":4575,"v":-8.3},{"t":4600,"v":-9.5},{"t":4625,"v":-10.0},{"t":4650,"v":-8.4},{"t":4675,"v":-7.6},{"t":4700,"v":-8.5},{"t":4725,"v":-7.2},{"t":4750,"v":-8.4},{"t":4775,"v":-7.6},{"t":4800,"v":-8.7},{"t":4825,"v":-7.0},{"t":4850,"v":-8.2},{"t":4875,"v":-6.7},{"t":4900,"v":-7.8},{"t":4925,"v":-8.6},{"t":4950,"v":-7.1},{"t":4975,"v":-8.4},
{"t":12.5,"v":-8.2},{"t":37.5,"v":-9.1},{"t":62.5,"v":-7.6},{"t":87.5,"v":-8.4},{"t":112.5,"v":-5.8},{"t":137.5,"v":-7.0},{"t":162.5,"v":-6.2},{"t":187.5,"v":-8.0},{"t":212.5,"v":-8.5},{"t":237.5,"v":-9.4},
{"t":262.5,"v":-6.9},{"t":287.5,"v":-8.4},{"t":312.5,"v":-7.5},{"t":337.5,"v":-8.5},{"t":362.5,"v":-7.3},{"t":387.5,"v":-7.4},{"t":412.5,"v":-6.4},{"t":437.5,"v":-7.8},{"t":462.5,"v":-7.0},{"t":487.5,"v":-9.2},
{"t":512.5,"v":-7.7},{"t":537.5,"v":-8.7},{"t":562.5,"v":-7.3},{"t":587.5,"v":-8.3},{"t":612.5,"v":-8.2},{"t":637.5,"v":-9.3},{"t":662.5,"v":-8.5},{"t":687.5,"v":-10.0},{"t":712.5,"v":-9.1},{"t":737.5,"v":-10.9},
{"t":762.5,"v":-8.8},{"t":787.5,"v":-8.0},{"t":812.5,"v":-6.0},{"t":837.5,"v":-6.6},{"t":862.5,"v":-5.0},{"t":887.5,"v":-6.2},{"t":912.5,"v":-5.6},{"t":937.5,"v":-7.2},{"t":962.5,"v":-6.4},{"t":987.5,"v":-8.0},
{"t":1012.5,"v":-7.4},{"t":1037.5,"v":-8.7},{"t":1062.5,"v":-7.7},{"t":1087.5,"v":-9.6},{"t":1112.5,"v":-9.1},{"t":1137.5,"v":-8.5},{"t":1162.5,"v":-6.0},{"t":1187.5,"v":-7.5},{"t":1212.5,"v":-8.5},{"t":1237.5,"v":-9.9},
{"t":1262.5,"v":-7.6},{"t":1287.5,"v":-8.9},{"t":1312.5,"v":-7.6},{"t":1337.5,"v":-8.5},{"t":1362.5,"v":-7.1},{"t":1387.5,"v":-7.9},{"t":1412.5,"v":-6.7},{"t":1437.5,"v":-8.0},{"t":1462.5,"v":-7.4},{"t":1487.5,"v":-8.8},
{"t":1512.5,"v":-8.5},{"t":1537.5,"v":-10.1},{"t":1562.5,"v":-8.6},{"t":1587.5,"v":-8.6},{"t":1612.5,"v":-7.7},{"t":1637.5,"v":-8.9},{"t":1662.5,"v":-7.6},{"t":1687.5,"v":-8.5},{"t":1712.5,"v":-7.3},{"t":1737.5,"v":-8.8},
{"t":1762.5,"v":-7.9},{"t":1787.5,"v":-9.2},{"t":1812.5,"v":-7.2},{"t":1837.5,"v":-8.6},{"t":1862.5,"v":-7.6},{"t":1887.5,"v":-8.9},{"t":1912.5,"v":-8.1},{"t":1937.5,"v":-9.8},{"t":1962.5,"v":-9.2},{"t":1987.5,"v":-9.6},
{"t":2012.5,"v":-7.5},{"t":2037.5,"v":-8.5},{"t":2062.5,"v":-6.9},{"t":2087.5,"v":-7.6},{"t":2112.5,"v":-6.4},{"t":2137.5,"v":-7.4},{"t":2162.5,"v":-6.0},{"t":2187.5,"v":-7.7},{"t":2212.5,"v":-8.6},{"t":2237.5,"v":-9.6},
{"t":2262.5,"v":-7.1},{"t":2287.5,"v":-8.5},{"t":2312.5,"v":-7.5},{"t":2337.5,"v":-8.8},{"t":2362.5,"v":-7.3},{"t":2387.5,"v":-8.2},{"t":2412.5,"v":-7.2},{"t":2437.5,"v":-8.6},{"t":2462.5,"v":-7.0},{"t":2487.5,"v":-7.8},
{"t":2512.5,"v":-7.8},{"t":2537.5,"v":-8.8},{"t":2562.5,"v":-7.3},{"t":2587.5,"v":-8.1},{"t":2612.5,"v":-6.1},{"t":2637.5,"v":-7.6},{"t":2662.5,"v":-7.6},{"t":2687.5,"v":-9.5},{"t":2712.5,"v":-9.0},{"t":2737.5,"v":-9.7},
{"t":2762.5,"v":-7.5},{"t":2787.5,"v":-8.6},{"t":2812.5,"v":-7.1},{"t":2837.5,"v":-8.1},{"t":2862.5,"v":-6.9},{"t":2887.5,"v":-7.9},{"t":2912.5,"v":-7.8},{"t":2937.5,"v":-8.8},{"t":2962.5,"v":-7.4},{"t":2987.5,"v":-8.6},
{"t":3012.5,"v":-7.7},{"t":3037.5,"v":-9.0},{"t":3062.5,"v":-7.9},{"t":3087.5,"v":-9.2},{"t":3112.5,"v":-8.2},{"t":3137.5,"v":-9.4},{"t":3162.5,"v":-8.6},{"t":3187.5,"v":-9.8},{"t":3212.5,"v":-7.5},{"t":3237.5,"v":-7.6},
{"t":3262.5,"v":-5.7},{"t":3287.5,"v":-8.0},{"t":3312.5,"v":-9.6},{"t":3337.5,"v":-11.1},{"t":3362.5,"v":-8.6},{"t":3387.5,"v":-8.5},{"t":3412.5,"v":-7.5},{"t":3437.5,"v":-8.8},{"t":3462.5,"v":-7.8},{"t":3487.5,"v":-8.8},
{"t":3512.5,"v":-6.7},{"t":3537.5,"v":-6.9},{"t":3562.5,"v":-5.9},{"t":3587.5,"v":-8.2},{"t":3612.5,"v":-7.3},{"t":3637.5,"v":-8.6},{"t":3662.5,"v":-7.8},{"t":3687.5,"v":-9.1},{"t":3712.5,"v":-8.1},{"t":3737.5,"v":-8.3},
{"t":3762.5,"v":-7.4},{"t":3787.5,"v":-8.7},{"t":3812.5,"v":-7.7},{"t":3837.5,"v":-9.2},{"t":3862.5,"v":-8.2},{"t":3887.5,"v":-10.2},{"t":3912.5,"v":-8.8},{"t":3937.5,"v":-9.6},{"t":3962.5,"v":-8.3},{"t":3987.5,"v":-9.6},
{"t":4012.5,"v":-9.8},{"t":4037.5,"v":-10.3},{"t":4062.5,"v":-6.9},{"t":4087.5,"v":-7.4},{"t":4112.5,"v":-7.6},{"t":4137.5,"v":-8.8},{"t":4162.5,"v":-7.7},{"t":4187.5,"v":-8.7},{"t":4212.5,"v":-7.3},{"t":4237.5,"v":-9.3},
{"t":4262.5,"v":-8.0},{"t":4287.5,"v":-9.3},{"t":4312.5,"v":-9.5},{"t":4337.5,"v":-10.7},{"t":4362.5,"v":-8.8},{"t":4387.5,"v":-9.9},{"t":4412.5,"v":-8.5},{"t":4437.5,"v":-9.4},{"t":4462.5,"v":-8.0},{"t":4487.5,"v":-8.9},
{"t":4512.5,"v":-7.7},{"t":4537.5,"v":-9.0},{"t":4562.5,"v":-8.1},{"t":4587.5,"v":-9.5},{"t":4612.5,"v":-9.2},{"t":4637.5,"v":-9.8},{"t":4662.5,"v":-7.4},{"t":4687.5,"v":-8.6},{"t":4712.5,"v":-7.3},{"t":4737.5,"v":-8.4},
{"t":4762.5,"v":-7.4},{"t":4787.5,"v":-8.7},{"t":4812.5,"v":-7.3},{"t":4837.5,"v":-8.2},{"t":4862.5,"v":-6.9},{"t":4887.5,"v":-7.8},{"t":4912.5,"v":-7.6},{"t":4937.5,"v":-8.4},{"t":4962.5,"v":-7.2},{"t":4987.5,"v":-7.9}],
"g5": [{"t":0,"v":-7.8},{"t":50,"v":-7.3},{"t":100,"v":-7.6},{"t":150,"v":-6.8},{"t":200,"v":-7.7},{"t":250,"v":-8.3},{"t":300,"v":-8.1},{"t":350,"v":-7.5},{"t":400,"v":-8.0},{"t":450,"v":-8.5},{"t":500,"v":-9.7},{"t":550,"v":-8.9},{"t":600,"v":-8.5},{"t":650,"v":-8.3},{"t":700,"v":-8.0},{"t":750,"v":-7.1},{"t":800,"v":-8.0},{"t":850,"v":-8.4},{"t":900,"v":-8.8},{"t":950,"v":-9.9},{"t":1000,"v":-9.0},{"t":1050,"v":-10.6},{"t":1100,"v":-8.7},{"t":1150,"v":-8.0},{"t":1200,"v":-8.8},{"t":1250,"v":-8.8},{"t":1300,"v":-8.8},{"t":1350,"v":-9.0},{"t":1400,"v":-9.3},{"t":1450,"v":-7.8},{"t":1500,"v":-8.4},{"t":1550,"v":-10.3},{"t":1600,"v":-11.0},{"t":1650,"v":-8.5},{"t":1700,"v":-6.7},{"t":1750,"v":-7.1},{"t":1800,"v":-7.2},{"t":1850,"v":-8.8},{"t":1900,"v":-9.0},{"t":1950,"v":-9.4},{"t":2000,"v":-9.8},{"t":2050,"v":-8.6},{"t":2100,"v":-7.7},{"t":2150,"v":-7.6},{"t":2200,"v":-7.8},{"t":2250,"v":-6.5},{"t":2300,"v":-9.9},{"t":2350,"v":-7.8},{"t":2400,"v":-7.9},{"t":2450,"v":-7.5},{"t":2500,"v":-7.7},{"t":2550,"v":-7.6},{"t":2600,"v":-7.5},{"t":2650,"v":-8.0},{"t":2700,"v":-9.4},{"t":2750,"v":-9.1},{"t":2800,"v":-7.5},{"t":2850,"v":-7.1},{"t":2900,"v":-7.5},{"t":2950,"v":-10.0},{"t":3000,"v":-9.8},{"t":3050,"v":-8.9},{"t":3100,"v":-7.4},{"t":3150,"v":-7.1},{"t":3200,"v":-7.0},{"t":3250,"v":-6.6},{"t":3300,"v":-7.6},{"t":3350,"v":-8.2},{"t":3400,"v":-8.4},{"t":3450,"v":-10.4},{"t":3500,"v":-8.1},{"t":3550,"v":-6.8},{"t":3600,"v":-10.8},{"t":3650,"v":-8.4},{"t":3700,"v":-7.9},{"t":3750,"v":-7.8},{"t":3800,"v":-7.7},{"t":3850,"v":-8.0},{"t":3900,"v":-10.0},{"t":3950,"v":-8.1},{"t":4000,"v":-8.3},{"t":4050,"v":-7.9},{"t":4100,"v":-10.1},{"t":4150,"v":-7.8},{"t":4200,"v":-6.6},{"t":4250,"v":-7.8},{"t":4300,"v":-8.2},{"t":4350,"v":-8.9},{"t":4400,"v":-8.6},{"t":4450,"v":-9.0},{"t":4500,"v":-8.6},{"t":4550,"v":-8.7},{"t":4600,"v":-8.5},{"t":4650,"v":-6.7},{"t":4700,"v":-8.9},{"t":4750,"v":-8.7},{"t":4800,"v":-8.7},{"t":4850,"v":-7.3},{"t":4900,"v":-9.0},{"t":4950,"v":-8.7}],
"f5": [{"t":0,"v":-7.6},{"t":25,"v":-9.0},{"t":50,"v":-7.0},{"t":75,"v":-8.4},{"t":100,"v":-7.5},{"t":125,"v":-8.6},{"t":150,"v":-7.0},{"t":175,"v":-6.1},{"t":200,"v":-7.5},{"t":225,"v":-8.9},{"t":250,"v":-8.1},{"t":275,"v":-9.1},{"t":300,"v":-7.9},{"t":325,"v":-8.8},{"t":350,"v":-7.4},{"t":375,"v":-7.0},{"t":400,"v":-8.2},{"t":425,"v":-7.6},{"t":450,"v":-8.8},{"t":475,"v":-8.0},{"t":500,"v":-9.6},{"t":525,"v":-10.2},{"t":550,"v":-8.7},{"t":575,"v":-9.3},{"t":600,"v":-8.3},{"t":625,"v":-9.0},{"t":650,"v":-8.1},{"t":675,"v":-8.8},{"t":700,"v":-7.9},{"t":725,"v":-8.6},{"t":750,"v":-6.9},{"t":775,"v":-7.6},{"t":800,"v":-8.2},{"t":825,"v":-7.5},{"t":850,"v":-8.6},{"t":875,"v":-7.8},{"t":900,"v":-9.0},{"t":925,"v":-8.4},{"t":950,"v":-10.2},{"t":975,"v":-9.3},{"t":1000,"v":-8.7},{"t":1025,"v":-9.8},{"t":1050,"v":-10.9},{"t":1075,"v":-9.2},{"t":1100,"v":-8.5},{"t":1125,"v":-9.3},{"t":1150,"v":-8.0},{"t":1175,"v":-7.3},{"t":1200,"v":-8.8},{"t":1225,"v":-9.6},{"t":1250,"v":-8.4},{"t":1275,"v":-10.0},{"t":1300,"v":-8.9},{"t":1325,"v":-8.0},{"t":1350,"v":-9.2},{"t":1375,"v":-8.4},{"t":1400,"v":-9.6},{"t":1425,"v":-8.5},{"t":1450,"v":-7.6},{"t":1475,"v":-7.1},{"t":1500,"v":-8.2},{"t":1525,"v":-9.3},{"t":1550,"v":-10.4},{"t":1575,"v":-11.0},{"t":1600,"v":-11.3},{"t":1625,"v":-9.6},{"t":1650,"v":-8.4},{"t":1675,"v":-7.5},{"t":1700,"v":-6.5},{"t":1725,"v":-6.0},{"t":1750,"v":-7.0},{"t":1775,"v":-7.7},{"t":1800,"v":-6.9},{"t":1825,"v":-8.3},{"t":1850,"v":-9.0},{"t":1875,"v":-8.1},{"t":1900,"v":-9.2},{"t":1925,"v":-8.4},{"t":1950,"v":-9.6},{"t":1975,"v":-8.7},{"t":2000,"v":-10.1},{"t":2025,"v":-9.1},{"t":2050,"v":-8.3},{"t":2075,"v":-9.4},{"t":2100,"v":-7.6},{"t":2125,"v":-7.0},{"t":2150,"v":-7.8},{"t":2175,"v":-6.9},{"t":2200,"v":-8.0},{"t":2225,"v":-7.1},{"t":2250,"v":-6.2},{"t":2275,"v":-7.7},{"t":2300,"v":-10.3},{"t":2325,"v":-8.6},{"t":2350,"v":-7.5},{"t":2375,"v":-8.7},{"t":2400,"v":-7.8},{"t":2425,"v":-8.6},{"t":2450,"v":-7.2},{"t":2475,"v":-8.3},{"t":2500,"v":-7.5},{"t":2525,"v":-8.4},{"t":2550,"v":-7.7},{"t":2575,"v":-6.7},{"t":2600,"v":-7.4},{"t":2625,"v":-8.5},{"t":2650,"v":-7.9},{"t":2675,"v":-8.8},{"t":2700,"v":-9.4},{"t":2725,"v":-10.4},{"t":2750,"v":-9.0},{"t":2775,"v":-8.2},{"t":2800,"v":-7.4},{"t":2825,"v":-7.9},{"t":2850,"v":-6.9},{"t":2875,"v":-8.0},{"t":2900,"v":-7.2},{"t":2925,"v":-9.0},{"t":2950,"v":-10.2},{"t":2975,"v":-11.0},{"t":3000,"v":-9.6},{"t":3025,"v":-10.3},{"t":3050,"v":-8.9},{"t":3075,"v":-8.1},{"t":3100,"v":-7.2},{"t":3125,"v":-8.0},{"t":3150,"v":-7.0},{"t":3175,"v":-7.6},{"t":3200,"v":-6.8},{"t":3225,"v":-7.4},{"t":3250,"v":-6.5},{"t":3275,"v":-5.7},{"t":3300,"v":-7.6},{"t":3325,"v":-8.6},{"t":3350,"v":-8.0},{"t":3375,"v":-9.0},{"t":3400,"v":-8.2},{"t":3425,"v":-9.5},{"t":3450,"v":-10.8},{"t":3475,"v":-9.0},{"t":3500,"v":-8.0},{"t":3525,"v":-7.4},{"t":3550,"v":-6.5},{"t":3575,"v":-8.3},{"t":3600,"v":-11.2},{"t":3625,"v":-9.4},{"t":3650,"v":-8.3},{"t":3675,"v":-7.4},{"t":3700,"v":-8.0},{"t":3725,"v":-7.2},{"t":3750,"v":-7.9},{"t":3775,"v":-6.9},{"t":3800,"v":-7.7},{"t":3825,"v":-8.6},{"t":3850,"v":-7.8},{"t":3875,"v":-9.3},{"t":3900,"v":-10.2},{"t":3925,"v":-8.8},{"t":3950,"v":-8.0},{"t":3975,"v":-7.4},{"t":4000,"v":-8.4},{"t":4025,"v":-7.1},{"t":4050,"v":-7.9},{"t":4075,"v":-8.9},{"t":4100,"v":-10.3},{"t":4125,"v":-8.6},{"t":4150,"v":-7.7},{"t":4175,"v":-6.9},{"t":4200,"v":-6.5},{"t":4225,"v":-7.3},{"t":4250,"v":-7.9},{"t":4275,"v":-7.2},{"t":4300,"v":-8.3},{"t":4325,"v":-7.6},{"t":4350,"v":-8.8},{"t":4375,"v":-9.5},{"t":4400,"v":-8.4},{"t":4425,"v":-10.2},{"t":4450,"v":-8.9},{"t":4475,"v":-8.0},{"t":4500,"v":-8.7},{"t":4525,"v":-7.8},{"t":4550,"v":-8.9},{"t":4575,"v":-7.9},{"t":4600,"v":-8.6},{"t":4625,"v":-7.4},{"t":4650,"v":-6.4},{"t":4675,"v":-7.9},{"t":4700,"v":-8.8},{"t":4725,"v":-9.8},{"t":4750,"v":-8.6},{"t":4775,"v":-7.7},{"t":4800,"v":-8.9},{"t":4825,"v":-7.6},{"t":4850,"v":-7.0},{"t":4875,"v":-8.2},{"t":4900,"v":-9.2},{"t":4925,"v":-8.1},{"t":4950,"v":-8.9},{"t":4975,"v":-8.0},
{"t":12.5,"v":-7.7},{"t":37.5,"v":-8.6},{"t":62.5,"v":-7.1},{"t":87.5,"v":-8.5},{"t":112.5,"v":-7.5},{"t":137.5,"v":-8.4},{"t":162.5,"v":-6.0},{"t":187.5,"v":-7.3},{"t":212.5,"v":-7.6},{"t":237.5,"v":-9.1},
{"t":262.5,"v":-8.0},{"t":287.5,"v":-9.1},{"t":312.5,"v":-7.8},{"t":337.5,"v":-8.7},{"t":362.5,"v":-6.7},{"t":387.5,"v":-8.1},{"t":412.5,"v":-7.3},{"t":437.5,"v":-8.8},{"t":462.5,"v":-7.8},{"t":487.5,"v":-9.3},
{"t":512.5,"v":-9.3},{"t":537.5,"v":-10.0},{"t":562.5,"v":-8.4},{"t":587.5,"v":-9.4},{"t":612.5,"v":-8.1},{"t":637.5,"v":-9.1},{"t":662.5,"v":-7.9},{"t":687.5,"v":-8.9},{"t":712.5,"v":-7.7},{"t":737.5,"v":-8.3},
{"t":762.5,"v":-6.7},{"t":787.5,"v":-8.5},{"t":812.5,"v":-7.3},{"t":837.5,"v":-8.6},{"t":862.5,"v":-7.6},{"t":887.5,"v":-9.0},{"t":912.5,"v":-8.1},{"t":937.5,"v":-9.8},{"t":962.5,"v":-9.2},{"t":987.5,"v":-9.6},
{"t":1012.5,"v":-8.7},{"t":1037.5,"v":-10.9},{"t":1062.5,"v":-9.5},{"t":1087.5,"v":-9.4},{"t":1112.5,"v":-8.3},{"t":1137.5,"v":-9.2},{"t":1162.5,"v":-7.1},{"t":1187.5,"v":-8.6},{"t":1212.5,"v":-8.6},{"t":1237.5,"v":-9.6},
{"t":1262.5,"v":-8.6},{"t":1287.5,"v":-10.0},{"t":1312.5,"v":-7.9},{"t":1337.5,"v":-9.2},{"t":1362.5,"v":-8.2},{"t":1387.5,"v":-9.6},{"t":1412.5,"v":-8.5},{"t":1437.5,"v":-8.6},{"t":1462.5,"v":-6.8},{"t":1487.5,"v":-8.2},
{"t":1512.5,"v":-8.2},{"t":1537.5,"v":-10.4},{"t":1562.5,"v":-10.1},{"t":1587.5,"v":-11.4},{"t":1612.5,"v":-9.9},{"t":1637.5,"v":-9.6},{"t":1662.5,"v":-7.4},{"t":1687.5,"v":-7.6},{"t":1712.5,"v":-6.0},{"t":1737.5,"v":-7.0},
{"t":1762.5,"v":-6.8},{"t":1787.5,"v":-7.9},{"t":1812.5,"v":-7.0},{"t":1837.5,"v":-9.2},{"t":1862.5,"v":-8.0},{"t":1887.5,"v":-9.2},{"t":1912.5,"v":-8.2},{"t":1937.5,"v":-9.6},{"t":1962.5,"v":-8.6},{"t":1987.5,"v":-9.9},
{"t":2012.5,"v":-9.0},{"t":2037.5,"v":-9.3},{"t":2062.5,"v":-8.3},{"t":2087.5,"v":-9.0},{"t":2112.5,"v":-6.7},{"t":2137.5,"v":-8.0},{"t":2162.5,"v":-6.8},{"t":2187.5,"v":-8.0},{"t":2212.5,"v":-7.0},{"t":2237.5,"v":-7.2},
{"t":2262.5,"v":-6.4},{"t":2287.5,"v":-9.5},{"t":2312.5,"v":-8.9},{"t":2337.5,"v":-8.6},{"t":2362.5,"v":-7.5},{"t":2387.5,"v":-8.8},{"t":2412.5,"v":-7.6},{"t":2437.5,"v":-8.5},{"t":2462.5,"v":-7.2},{"t":2487.5,"v":-8.5},
{"t":2512.5,"v":-7.4},{"t":2537.5,"v":-8.6},{"t":2562.5,"v":-6.6},{"t":2587.5,"v":-7.6},{"t":2612.5,"v":-7.4},{"t":2637.5,"v":-8.8},{"t":2662.5,"v":-7.8},{"t":2687.5,"v":-9.7},{"t":2712.5,"v":-9.3},{"t":2737.5,"v":-10.2},
{"t":2762.5,"v":-8.0},{"t":2787.5,"v":-8.4},{"t":2812.5,"v":-7.1},{"t":2837.5,"v":-7.9},{"t":2862.5,"v":-6.9},{"t":2887.5,"v":-8.2},{"t":2912.5,"v":-7.5},{"t":2937.5,"v":-10.1},{"t":2962.5,"v":-10.0},{"t":2987.5,"v":-10.8},
{"t":3012.5,"v":-9.4},{"t":3037.5,"v":-10.1},{"t":3062.5,"v":-7.9},{"t":3087.5,"v":-8.2},{"t":3112.5,"v":-7.0},{"t":3137.5,"v":-8.0},{"t":3162.5,"v":-6.7},{"t":3187.5,"v":-7.8},{"t":3212.5,"v":-6.5},{"t":3237.5,"v":-7.5},
{"t":3262.5,"v":-5.8},{"t":3287.5,"v":-7.2},{"t":3312.5,"v":-7.5},{"t":3337.5,"v":-8.9},{"t":3362.5,"v":-7.9},{"t":3387.5,"v":-9.2},{"t":3412.5,"v":-8.3},{"t":3437.5,"v":-10.6},{"t":3462.5,"v":-9.4},{"t":3487.5,"v":-9.0},
{"t":3512.5,"v":-7.1},{"t":3537.5,"v":-7.5},{"t":3562.5,"v":-6.8},{"t":3587.5,"v":-10.3},{"t":3612.5,"v":-9.8},{"t":3637.5,"v":-9.4},{"t":3662.5,"v":-7.3},{"t":3687.5,"v":-8.3},{"t":3712.5,"v":-7.0},{"t":3737.5,"v":-8.1},
{"t":3762.5,"v":-6.8},{"t":3787.5,"v":-7.9},{"t":3812.5,"v":-7.6},{"t":3837.5,"v":-8.8},{"t":3862.5,"v":-8.0},{"t":3887.5,"v":-10.3},{"t":3912.5,"v":-8.9},{"t":3937.5,"v":-9.0},{"t":3962.5,"v":-7.1},{"t":3987.5,"v":-8.5},
{"t":4012.5,"v":-7.2},{"t":4037.5,"v":-8.1},{"t":4062.5,"v":-7.8},{"t":4087.5,"v":-10.1},{"t":4112.5,"v":-8.9},{"t":4137.5,"v":-8.7},{"t":4162.5,"v":-6.7},{"t":4187.5,"v":-7.3},{"t":4212.5,"v":-6.3},{"t":4237.5,"v":-8.2},
{"t":4262.5,"v":-7.0},{"t":4287.5,"v":-8.3},{"t":4312.5,"v":-7.4},{"t":4337.5,"v":-8.8},{"t":4362.5,"v":-8.6},{"t":4387.5,"v":-9.5},{"t":4412.5,"v":-8.7},{"t":4437.5,"v":-10.1},{"t":4462.5,"v":-7.9},{"t":4487.5,"v":-8.9},
{"t":4512.5,"v":-7.7},{"t":4537.5,"v":-8.9},{"t":4562.5,"v":-7.8},{"t":4587.5,"v":-8.8},{"t":4612.5,"v":-7.4},{"t":4637.5,"v":-7.4},{"t":4662.5,"v":-6.6},{"t":4687.5,"v":-8.9},{"t":4712.5,"v":-8.7},{"t":4737.5,"v":-9.8},
{"t":4762.5,"v":-7.6},{"t":4787.5,"v":-8.9},{"t":4812.5,"v":-7.7},{"t":4837.5,"v":-7.9},{"t":4862.5,"v":-7.0},{"t":4887.5,"v":-9.3},{"t":4912.5,"v":-8.1},{"t":4937.5,"v":-9.1},{"t":4962.5,"v":-7.9},{"t":4987.5,"v":-8.6}]
},
"vconcat": [
{"width": 860, "height": 221, "layer": [
 {"data": {"name": "g1"}, "mark": {"type": "line", "strokeWidth": 4.5},
  "encoding": {
   "x": {"field": "t", "type": "quantitative", "scale": {"domain": [0, 5000], "nice": false}, "axis": {"values": [0,500,1000,1500,2000,2500,3000,3500,4000,4500,5000], "labelExpr": "datum.value == 5000 ? '' : toString(datum.value)", "title": "Time"}},
   "y": {"field": "v", "type": "quantitative", "scale": {"domain": [-12, -4.42], "nice": false, "zero": false}, "axis": {"values": [-12,-10,-8,-6], "labelExpr": "toString(datum.value)", "title": null}},
   "color": {"datum": "True h1", "type": "nominal", "scale": {"domain": ["True h1", "Fit h1"], "range": ["#c0c0c0", "#000000"]},
     "legend": {"title": null, "orient": "none", "legendX": 573, "legendY": 8, "direction": "horizontal", "symbolType": "stroke", "symbolSize": 2000, "labelOffset": 19, "columnPadding": 35, "padding": 0, "encode": {"symbols": {"update": {"strokeWidth": {"signal": "datum.value === 'True h1' ? 5 : 1.2"}}}}}}
  }},
 {"data": {"name": "f1"}, "mark": {"type": "line", "strokeWidth": 1.3},
  "encoding": {"x": {"field": "t", "type": "quantitative"}, "y": {"field": "v", "type": "quantitative"}, "color": {"datum": "Fit h1", "type": "nominal"}}}
]},
{"width": 860, "height": 221, "layer": [
 {"data": {"name": "g2"}, "mark": {"type": "line", "strokeWidth": 4.5},
  "encoding": {
   "x": {"field": "t", "type": "quantitative", "scale": {"domain": [0, 5000], "nice": false}, "axis": {"values": [0,500,1000,1500,2000,2500,3000,3500,4000,4500,5000], "labelExpr": "datum.value == 5000 ? '' : toString(datum.value)", "title": "Time"}},
   "y": {"field": "v", "type": "quantitative", "scale": {"domain": [-12, -4.42], "nice": false, "zero": false}, "axis": {"values": [-12,-10,-8,-6], "labelExpr": "toString(datum.value)", "title": null}},
   "color": {"datum": "True h2", "type": "nominal", "scale": {"domain": ["True h2", "Fit h2"], "range": ["#c0c0c0", "#000000"]},
     "legend": {"title": null, "orient": "none", "legendX": 573, "legendY": 8, "direction": "horizontal", "symbolType": "stroke", "symbolSize": 2000, "labelOffset": 19, "columnPadding": 35, "padding": 0, "encode": {"symbols": {"update": {"strokeWidth": {"signal": "datum.value === 'True h2' ? 5 : 1.2"}}}}}}
  }},
 {"data": {"name": "f2"}, "mark": {"type": "line", "strokeWidth": 1.3},
  "encoding": {"x": {"field": "t", "type": "quantitative"}, "y": {"field": "v", "type": "quantitative"}, "color": {"datum": "Fit h2", "type": "nominal"}}}
]},
{"width": 860, "height": 221, "layer": [
 {"data": {"name": "g3"}, "mark": {"type": "line", "strokeWidth": 4.5},
  "encoding": {
   "x": {"field": "t", "type": "quantitative", "scale": {"domain": [0, 5000], "nice": false}, "axis": {"values": [0,500,1000,1500,2000,2500,3000,3500,4000,4500,5000], "labelExpr": "datum.value == 5000 ? '' : toString(datum.value)", "title": "Time"}},
   "y": {"field": "v", "type": "quantitative", "scale": {"domain": [-12, -4.42], "nice": false, "zero": false}, "axis": {"values": [-12,-10,-8,-6], "labelExpr": "toString(datum.value)", "title": null}},
   "color": {"datum": "True h3", "type": "nominal", "scale": {"domain": ["True h3", "Fit h3"], "range": ["#c0c0c0", "#000000"]},
     "legend": {"title": null, "orient": "none", "legendX": 573, "legendY": 8, "direction": "horizontal", "symbolType": "stroke", "symbolSize": 2000, "labelOffset": 19, "columnPadding": 35, "padding": 0, "encode": {"symbols": {"update": {"strokeWidth": {"signal": "datum.value === 'True h3' ? 5 : 1.2"}}}}}}
  }},
 {"data": {"name": "f3"}, "mark": {"type": "line", "strokeWidth": 1.3},
  "encoding": {"x": {"field": "t", "type": "quantitative"}, "y": {"field": "v", "type": "quantitative"}, "color": {"datum": "Fit h3", "type": "nominal"}}}
]},
{"width": 860, "height": 221, "layer": [
 {"data": {"name": "g4"}, "mark": {"type": "line", "strokeWidth": 4.5},
  "encoding": {
   "x": {"field": "t", "type": "quantitative", "scale": {"domain": [0, 5000], "nice": false}, "axis": {"values": [0,500,1000,1500,2000,2500,3000,3500,4000,4500,5000], "labelExpr": "datum.value == 5000 ? '' : toString(datum.value)", "title": "Time"}},
   "y": {"field": "v", "type": "quantitative", "scale": {"domain": [-12, -4.42], "nice": false, "zero": false}, "axis": {"values": [-12,-10,-8,-6], "labelExpr": "toString(datum.value)", "title": null}},
   "color": {"datum": "True h4", "type": "nominal", "scale": {"domain": ["True h4", "Fit h4"], "range": ["#c0c0c0", "#000000"]},
     "legend": {"title": null, "orient": "none", "legendX": 573, "legendY": 8, "direction": "horizontal", "symbolType": "stroke", "symbolSize": 2000, "labelOffset": 19, "columnPadding": 35, "padding": 0, "encode": {"symbols": {"update": {"strokeWidth": {"signal": "datum.value === 'True h4' ? 5 : 1.2"}}}}}}
  }},
 {"data": {"name": "f4"}, "mark": {"type": "line", "strokeWidth": 1.3},
  "encoding": {"x": {"field": "t", "type": "quantitative"}, "y": {"field": "v", "type": "quantitative"}, "color": {"datum": "Fit h4", "type": "nominal"}}}
]},
{"width": 860, "height": 221, "layer": [
 {"data": {"name": "g5"}, "mark": {"type": "line", "strokeWidth": 4.5},
  "encoding": {
   "x": {"field": "t", "type": "quantitative", "scale": {"domain": [0, 5000], "nice": false}, "axis": {"values": [0,500,1000,1500,2000,2500,3000,3500,4000,4500,5000], "labelExpr": "datum.value == 5000 ? '' : toString(datum.value)", "title": "Time"}},
   "y": {"field": "v", "type": "quantitative", "scale": {"domain": [-12, -4.42], "nice": false, "zero": false}, "axis": {"values": [-12,-10,-8,-6], "labelExpr": "toString(datum.value)", "title": null}},
   "color": {"datum": "True h5", "type": "nominal", "scale": {"domain": ["True h5", "Fit h5"], "range": ["#c0c0c0", "#000000"]},
     "legend": {"title": null, "orient": "none", "legendX": 573, "legendY": 8, "direction": "horizontal", "symbolType": "stroke", "symbolSize": 2000, "labelOffset": 19, "columnPadding": 35, "padding": 0, "encode": {"symbols": {"update": {"strokeWidth": {"signal": "datum.value === 'True h5' ? 5 : 1.2"}}}}}}
  }},
 {"data": {"name": "f5"}, "mark": {"type": "line", "strokeWidth": 1.3},
  "encoding": {"x": {"field": "t", "type": "quantitative"}, "y": {"field": "v", "type": "quantitative"}, "color": {"datum": "Fit h5", "type": "nominal"}}}
]}
],
"config": {
 "font": "Lato",
 "view": {"stroke": "#000000", "strokeWidth": 1},
 "axis": {"domainColor": "#878787", "domainWidth": 1.5, "tickColor": "#878787", "tickWidth": 1.5, "tickSize": 6, "labelColor": "#000000", "labelFontSize": 19, "labelFont": "Lato", "grid": false, "zindex": 1, "titleFont": "Lato", "titleFontSize": 20, "titleFontWeight": "bold", "titleColor": "#000000"},
 "axisX": {"labelPadding": 12, "titlePadding": 2, "labelFlush": false, "labelOverlap": false},
 "axisY": {"labelPadding": 8},
 "legend": {"labelFontSize": 20, "labelFont": "Lato", "labelColor": "#000000"}
}
}
